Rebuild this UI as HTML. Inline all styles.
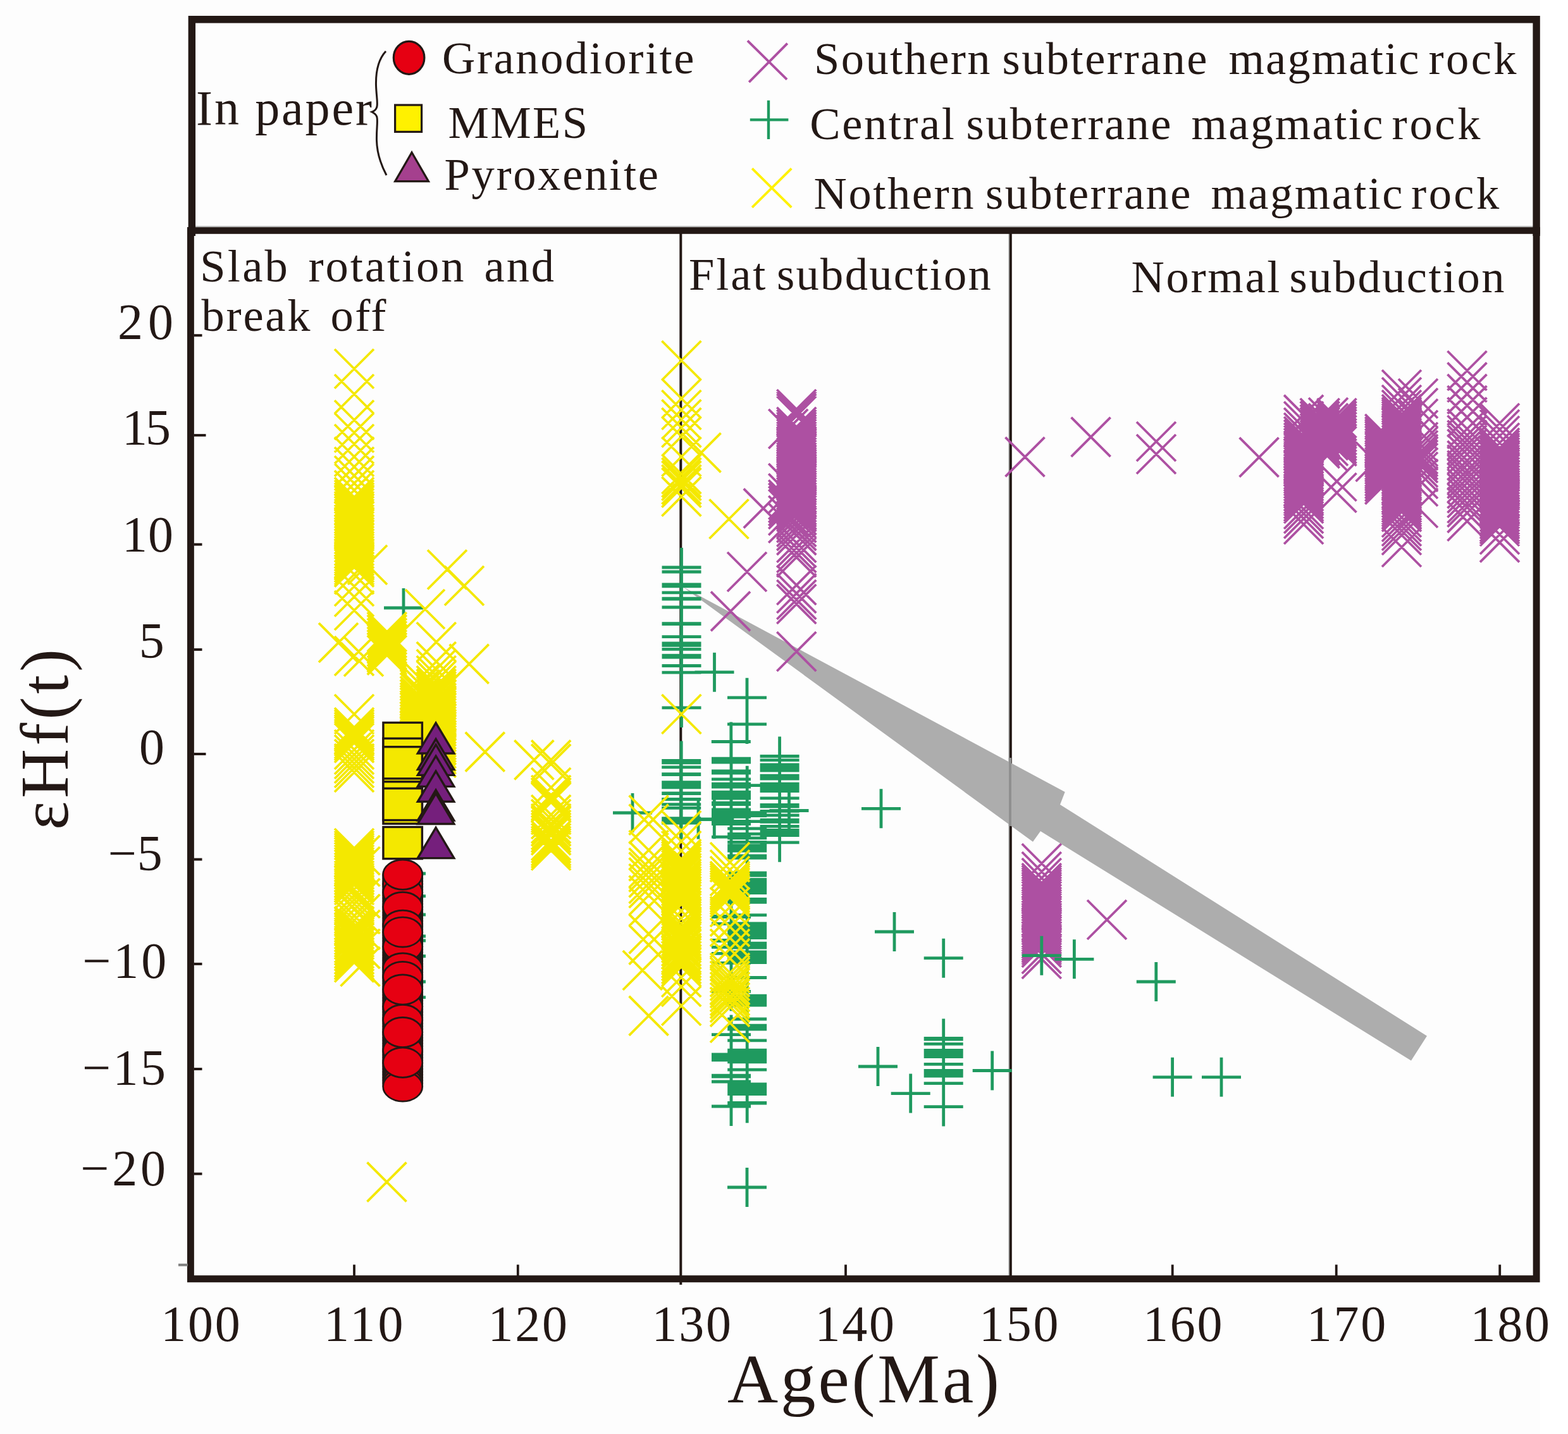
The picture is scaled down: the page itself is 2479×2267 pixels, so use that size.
<!DOCTYPE html>
<html lang="en"><head><meta charset="utf-8"><title>εHf(t) vs Age(Ma)</title>
<style>html,body{margin:0;padding:0;background:#fff}svg{display:block}</style></head>
<body>
<svg width="2479" height="2267" viewBox="0 0 2479 2267" font-family="'Liberation Serif', serif" fill="#231815">
<rect width="2479" height="2267" fill="#ffffff"/>
<rect x="0" y="0" width="2435" height="2267" fill="#fdfdfd"/>
<rect x="1074.3" y="365" width="4" height="1666" fill="#231815"/>
<rect x="1594.3" y="365" width="1.7" height="1655" fill="#a8a8a8"/>
<rect x="1596" y="365" width="3.8" height="1655" fill="#231815"/>
<polygon points="1080,928 1683.7,1252 1676,1272 2256,1637.7 2231,1676.7 1645,1314 1633,1330.8" fill="#adadad"/>
<rect x="1595" y="1198" width="4" height="108" fill="#8f8f8f"/>
<path d="M1228.3 616.0L1290.3 678.0M1290.3 616.0L1228.3 678.0M1228.3 619.5L1290.3 681.5M1290.3 619.5L1228.3 681.5M1228.3 623.0L1290.3 685.0M1290.3 623.0L1228.3 685.0M1228.3 626.5L1290.3 688.5M1290.3 626.5L1228.3 688.5M1228.3 644.0L1290.3 706.0M1290.3 644.0L1228.3 706.0M1228.3 648.0L1290.3 710.0M1290.3 648.0L1228.3 710.0M1228.3 651.6L1290.3 713.6M1290.3 651.6L1228.3 713.6M1228.3 655.6L1290.3 717.6M1290.3 655.6L1228.3 717.6M1228.3 659.4L1290.3 721.4M1290.3 659.4L1228.3 721.4M1228.3 663.0L1290.3 725.0M1290.3 663.0L1228.3 725.0M1228.3 667.2L1290.3 729.2M1290.3 667.2L1228.3 729.2M1228.3 670.3L1290.3 732.3M1290.3 670.3L1228.3 732.3M1228.3 674.4L1290.3 736.4M1290.3 674.4L1228.3 736.4M1228.3 677.4L1290.3 739.4M1290.3 677.4L1228.3 739.4M1228.3 681.2L1290.3 743.2M1290.3 681.2L1228.3 743.2M1228.3 684.9L1290.3 746.9M1290.3 684.9L1228.3 746.9M1228.3 688.2L1290.3 750.2M1290.3 688.2L1228.3 750.2M1228.3 692.2L1290.3 754.2M1290.3 692.2L1228.3 754.2M1228.3 695.9L1290.3 757.9M1290.3 695.9L1228.3 757.9M1228.3 699.8L1290.3 761.8M1290.3 699.8L1228.3 761.8M1228.3 704.1L1290.3 766.1M1290.3 704.1L1228.3 766.1M1228.3 707.4L1290.3 769.4M1290.3 707.4L1228.3 769.4M1228.3 710.4L1290.3 772.4M1290.3 710.4L1228.3 772.4M1228.3 713.9L1290.3 775.9M1290.3 713.9L1228.3 775.9M1228.3 717.8L1290.3 779.8M1290.3 717.8L1228.3 779.8M1228.3 721.1L1290.3 783.1M1290.3 721.1L1228.3 783.1M1228.3 724.3L1290.3 786.3M1290.3 724.3L1228.3 786.3M1228.3 728.6L1290.3 790.6M1290.3 728.6L1228.3 790.6M1228.3 732.5L1290.3 794.5M1290.3 732.5L1228.3 794.5M1228.3 736.1L1290.3 798.1M1290.3 736.1L1228.3 798.1M1228.3 740.4L1290.3 802.4M1290.3 740.4L1228.3 802.4M1228.3 743.8L1290.3 805.8M1290.3 743.8L1228.3 805.8M1228.3 747.8L1290.3 809.8M1290.3 747.8L1228.3 809.8M1228.3 751.1L1290.3 813.1M1290.3 751.1L1228.3 813.1M1228.3 754.7L1290.3 816.7M1290.3 754.7L1228.3 816.7M1228.3 758.8L1290.3 820.8M1290.3 758.8L1228.3 820.8M1228.3 763.1L1290.3 825.1M1290.3 763.1L1228.3 825.1M1228.3 767.3L1290.3 829.3M1290.3 767.3L1228.3 829.3M1228.3 770.8L1290.3 832.8M1290.3 770.8L1228.3 832.8M1228.3 774.7L1290.3 836.7M1290.3 774.7L1228.3 836.7M1228.3 778.1L1290.3 840.1M1290.3 778.1L1228.3 840.1M1228.3 783.0L1290.3 845.0M1290.3 783.0L1228.3 845.0M1228.3 788.7L1290.3 850.7M1290.3 788.7L1228.3 850.7M1228.3 795.3L1290.3 857.3M1290.3 795.3L1228.3 857.3M1228.3 802.0L1290.3 864.0M1290.3 802.0L1228.3 864.0M1228.3 808.2L1290.3 870.2M1290.3 808.2L1228.3 870.2M1228.3 815.1L1290.3 877.1M1290.3 815.1L1228.3 877.1M1228.3 827.0L1290.3 889.0M1290.3 827.0L1228.3 889.0M1228.3 835.0L1290.3 897.0M1290.3 835.0L1228.3 897.0M1228.3 843.0L1290.3 905.0M1290.3 843.0L1228.3 905.0M1228.3 850.0L1290.3 912.0M1290.3 850.0L1228.3 912.0M1228.3 894.0L1290.3 956.0M1290.3 894.0L1228.3 956.0M1228.3 907.0L1290.3 969.0M1290.3 907.0L1228.3 969.0M1228.3 917.0L1290.3 979.0M1290.3 917.0L1228.3 979.0M1228.3 924.0L1290.3 986.0M1290.3 924.0L1228.3 986.0M1228.3 999.0L1290.3 1061.0M1290.3 999.0L1228.3 1061.0M1215.2 647.0L1277.2 709.0M1277.2 647.0L1215.2 709.0M1215.2 733.0L1277.2 795.0M1277.2 733.0L1215.2 795.0M1215.2 749.0L1277.2 811.0M1277.2 749.0L1215.2 811.0M1215.2 759.0L1277.2 821.0M1277.2 759.0L1215.2 821.0M1215.2 764.0L1277.2 826.0M1277.2 764.0L1215.2 826.0M1215.2 769.0L1277.2 831.0M1277.2 769.0L1215.2 831.0M1215.2 774.0L1277.2 836.0M1277.2 774.0L1215.2 836.0M1215.2 784.0L1277.2 846.0M1277.2 784.0L1215.2 846.0M1215.2 796.0L1277.2 858.0M1277.2 796.0L1215.2 858.0M1175.8 772.7L1237.8 834.7M1237.8 772.7L1175.8 834.7M1150.0 873.0L1212.0 935.0M1212.0 873.0L1150.0 935.0M1124.0 935.4L1186.0 997.4M1186.0 935.4L1124.0 997.4M1589.5 691.3L1651.5 753.3M1651.5 691.3L1589.5 753.3M1693.6 659.8L1755.6 721.8M1755.6 659.8L1693.6 721.8M1797.0 667.0L1859.0 729.0M1859.0 667.0L1797.0 729.0M1797.0 687.0L1859.0 749.0M1859.0 687.0L1797.0 749.0M1959.6 691.9L2021.6 753.9M2021.6 691.9L1959.6 753.9M1615.8 1334.0L1677.8 1396.0M1677.8 1334.0L1615.8 1396.0M1615.8 1347.0L1677.8 1409.0M1677.8 1347.0L1615.8 1409.0M1615.8 1357.0L1677.8 1419.0M1677.8 1357.0L1615.8 1419.0M1615.8 1365.0L1677.8 1427.0M1677.8 1365.0L1615.8 1427.0M1615.8 1368.3L1677.8 1430.3M1677.8 1368.3L1615.8 1430.3M1615.8 1372.0L1677.8 1434.0M1677.8 1372.0L1615.8 1434.0M1615.8 1375.4L1677.8 1437.4M1677.8 1375.4L1615.8 1437.4M1615.8 1378.8L1677.8 1440.8M1677.8 1378.8L1615.8 1440.8M1615.8 1382.4L1677.8 1444.4M1677.8 1382.4L1615.8 1444.4M1615.8 1386.4L1677.8 1448.4M1677.8 1386.4L1615.8 1448.4M1615.8 1390.2L1677.8 1452.2M1677.8 1390.2L1615.8 1452.2M1615.8 1393.7L1677.8 1455.7M1677.8 1393.7L1615.8 1455.7M1615.8 1398.1L1677.8 1460.1M1677.8 1398.1L1615.8 1460.1M1615.8 1402.6L1677.8 1464.6M1677.8 1402.6L1615.8 1464.6M1615.8 1406.4L1677.8 1468.4M1677.8 1406.4L1615.8 1468.4M1615.8 1409.5L1677.8 1471.5M1677.8 1409.5L1615.8 1471.5M1615.8 1412.5L1677.8 1474.5M1677.8 1412.5L1615.8 1474.5M1615.8 1416.9L1677.8 1478.9M1677.8 1416.9L1615.8 1478.9M1615.8 1420.0L1677.8 1482.0M1677.8 1420.0L1615.8 1482.0M1615.8 1424.1L1677.8 1486.1M1677.8 1424.1L1615.8 1486.1M1615.8 1428.1L1677.8 1490.1M1677.8 1428.1L1615.8 1490.1M1615.8 1431.5L1677.8 1493.5M1677.8 1431.5L1615.8 1493.5M1615.8 1435.8L1677.8 1497.8M1677.8 1435.8L1615.8 1497.8M1615.8 1438.8L1677.8 1500.8M1677.8 1438.8L1615.8 1500.8M1615.8 1442.1L1677.8 1504.1M1677.8 1442.1L1615.8 1504.1M1615.8 1445.8L1677.8 1507.8M1677.8 1445.8L1615.8 1507.8M1615.8 1448.8L1677.8 1510.8M1677.8 1448.8L1615.8 1510.8M1615.8 1453.2L1677.8 1515.2M1677.8 1453.2L1615.8 1515.2M1615.8 1456.5L1677.8 1518.5M1677.8 1456.5L1615.8 1518.5M1615.8 1459.8L1677.8 1521.8M1677.8 1459.8L1615.8 1521.8M1615.8 1462.8L1677.8 1524.8M1677.8 1462.8L1615.8 1524.8M1615.8 1466.8L1677.8 1528.8M1677.8 1466.8L1615.8 1528.8M1615.8 1477.0L1677.8 1539.0M1677.8 1477.0L1615.8 1539.0M1615.8 1485.0L1677.8 1547.0M1677.8 1485.0L1615.8 1547.0M1719.0 1423.0L1781.0 1485.0M1781.0 1423.0L1719.0 1485.0M2030.1 624.6L2092.1 686.6M2092.1 624.6L2030.1 686.6M2030.1 635.0L2092.1 697.0M2092.1 635.0L2030.1 697.0M2030.1 645.0L2092.1 707.0M2092.1 645.0L2030.1 707.0M2030.1 653.0L2092.1 715.0M2092.1 653.0L2030.1 715.0M2030.1 659.0L2092.1 721.0M2092.1 659.0L2030.1 721.0M2030.1 664.0L2092.1 726.0M2092.1 664.0L2030.1 726.0M2030.1 669.0L2092.1 731.0M2092.1 669.0L2030.1 731.0M2030.1 673.0L2092.1 735.0M2092.1 673.0L2030.1 735.0M2030.1 677.1L2092.1 739.1M2092.1 677.1L2030.1 739.1M2030.1 681.3L2092.1 743.3M2092.1 681.3L2030.1 743.3M2030.1 685.9L2092.1 747.9M2092.1 685.9L2030.1 747.9M2030.1 690.0L2092.1 752.0M2092.1 690.0L2030.1 752.0M2030.1 693.3L2092.1 755.3M2092.1 693.3L2030.1 755.3M2030.1 697.1L2092.1 759.1M2092.1 697.1L2030.1 759.1M2030.1 700.3L2092.1 762.3M2092.1 700.3L2030.1 762.3M2030.1 703.4L2092.1 765.4M2092.1 703.4L2030.1 765.4M2030.1 707.1L2092.1 769.1M2092.1 707.1L2030.1 769.1M2030.1 711.3L2092.1 773.3M2092.1 711.3L2030.1 773.3M2030.1 714.5L2092.1 776.5M2092.1 714.5L2030.1 776.5M2030.1 718.0L2092.1 780.0M2092.1 718.0L2030.1 780.0M2030.1 721.5L2092.1 783.5M2092.1 721.5L2030.1 783.5M2030.1 725.6L2092.1 787.6M2092.1 725.6L2030.1 787.6M2030.1 729.5L2092.1 791.5M2092.1 729.5L2030.1 791.5M2030.1 733.5L2092.1 795.5M2092.1 733.5L2030.1 795.5M2030.1 737.7L2092.1 799.7M2092.1 737.7L2030.1 799.7M2030.1 741.3L2092.1 803.3M2092.1 741.3L2030.1 803.3M2030.1 745.6L2092.1 807.6M2092.1 745.6L2030.1 807.6M2030.1 750.0L2092.1 812.0M2092.1 750.0L2030.1 812.0M2030.1 753.2L2092.1 815.2M2092.1 753.2L2030.1 815.2M2030.1 757.7L2092.1 819.7M2092.1 757.7L2030.1 819.7M2030.1 761.8L2092.1 823.8M2092.1 761.8L2030.1 823.8M2030.1 765.0L2092.1 827.0M2092.1 765.0L2030.1 827.0M2030.1 774.0L2092.1 836.0M2092.1 774.0L2030.1 836.0M2030.1 781.0L2092.1 843.0M2092.1 781.0L2030.1 843.0M2030.1 789.0L2092.1 851.0M2092.1 789.0L2030.1 851.0M2030.1 798.0L2092.1 860.0M2092.1 798.0L2030.1 860.0M2055.7 630.0L2117.7 692.0M2117.7 630.0L2055.7 692.0M2055.7 634.8L2117.7 696.8M2117.7 634.8L2055.7 696.8M2055.7 640.1L2117.7 702.1M2117.7 640.1L2055.7 702.1M2055.7 644.3L2117.7 706.3M2117.7 644.3L2055.7 706.3M2055.7 649.0L2117.7 711.0M2117.7 649.0L2055.7 711.0M2055.7 654.2L2117.7 716.2M2117.7 654.2L2055.7 716.2M2055.7 659.3L2117.7 721.3M2117.7 659.3L2055.7 721.3M2055.7 664.7L2117.7 726.7M2117.7 664.7L2055.7 726.7M2055.7 669.1L2117.7 731.1M2117.7 669.1L2055.7 731.1M2055.7 673.9L2117.7 735.9M2117.7 673.9L2055.7 735.9M2055.7 677.8L2117.7 739.8M2117.7 677.8L2055.7 739.8M2082.5 630.0L2144.5 692.0M2144.5 630.0L2082.5 692.0M2082.5 634.7L2144.5 696.7M2144.5 634.7L2082.5 696.7M2082.5 639.0L2144.5 701.0M2144.5 639.0L2082.5 701.0M2082.5 643.5L2144.5 705.5M2144.5 643.5L2082.5 705.5M2082.5 647.1L2144.5 709.1M2144.5 647.1L2082.5 709.1M2082.5 651.9L2144.5 713.9M2144.5 651.9L2082.5 713.9M2082.5 656.9L2144.5 718.9M2144.5 656.9L2082.5 718.9M2082.5 661.8L2144.5 723.8M2144.5 661.8L2082.5 723.8M2082.5 666.0L2144.5 728.0M2144.5 666.0L2082.5 728.0M2082.5 670.6L2144.5 732.6M2144.5 670.6L2082.5 732.6M2082.5 674.4L2144.5 736.4M2144.5 674.4L2082.5 736.4M2082.5 730.0L2144.5 792.0M2144.5 730.0L2082.5 792.0M2082.5 748.0L2144.5 810.0M2144.5 748.0L2082.5 810.0M2069.0 629.0L2131.0 691.0M2131.0 629.0L2069.0 691.0M2069.0 638.0L2131.0 700.0M2131.0 638.0L2069.0 700.0M2069.0 647.0L2131.0 709.0M2131.0 647.0L2069.0 709.0M2069.0 656.0L2131.0 718.0M2131.0 656.0L2069.0 718.0M2069.0 665.0L2131.0 727.0M2131.0 665.0L2069.0 727.0M2069.0 674.0L2131.0 736.0M2131.0 674.0L2069.0 736.0M2069.0 683.0L2131.0 745.0M2131.0 683.0L2069.0 745.0M2158.3 655.0L2220.3 717.0M2220.3 655.0L2158.3 717.0M2158.3 659.4L2220.3 721.4M2220.3 659.4L2158.3 721.4M2158.3 662.9L2220.3 724.9M2220.3 662.9L2158.3 724.9M2158.3 666.1L2220.3 728.1M2220.3 666.1L2158.3 728.1M2158.3 669.8L2220.3 731.8M2220.3 669.8L2158.3 731.8M2158.3 673.6L2220.3 735.6M2220.3 673.6L2158.3 735.6M2158.3 677.9L2220.3 739.9M2220.3 677.9L2158.3 739.9M2158.3 681.7L2220.3 743.7M2220.3 681.7L2158.3 743.7M2158.3 684.7L2220.3 746.7M2220.3 684.7L2158.3 746.7M2158.3 689.0L2220.3 751.0M2220.3 689.0L2158.3 751.0M2158.3 692.1L2220.3 754.1M2220.3 692.1L2158.3 754.1M2158.3 696.4L2220.3 758.4M2220.3 696.4L2158.3 758.4M2158.3 699.7L2220.3 761.7M2220.3 699.7L2158.3 761.7M2158.3 703.2L2220.3 765.2M2220.3 703.2L2158.3 765.2M2158.3 707.4L2220.3 769.4M2220.3 707.4L2158.3 769.4M2158.3 710.7L2220.3 772.7M2220.3 710.7L2158.3 772.7M2158.3 713.9L2220.3 775.9M2220.3 713.9L2158.3 775.9M2158.3 717.7L2220.3 779.7M2220.3 717.7L2158.3 779.7M2158.3 721.9L2220.3 783.9M2220.3 721.9L2158.3 783.9M2158.3 726.2L2220.3 788.2M2220.3 726.2L2158.3 788.2M2158.3 730.3L2220.3 792.3M2220.3 730.3L2158.3 792.3M2158.3 734.9L2220.3 796.9M2220.3 734.9L2158.3 796.9M2143.6 699.0L2205.6 761.0M2205.6 699.0L2143.6 761.0M2185.0 585.0L2247.0 647.0M2247.0 585.0L2185.0 647.0M2185.0 597.0L2247.0 659.0M2247.0 597.0L2185.0 659.0M2185.0 609.0L2247.0 671.0M2247.0 609.0L2185.0 671.0M2185.0 617.0L2247.0 679.0M2247.0 617.0L2185.0 679.0M2185.0 624.0L2247.0 686.0M2247.0 624.0L2185.0 686.0M2185.0 628.3L2247.0 690.3M2247.0 628.3L2185.0 690.3M2185.0 631.4L2247.0 693.4M2247.0 631.4L2185.0 693.4M2185.0 634.8L2247.0 696.8M2247.0 634.8L2185.0 696.8M2185.0 638.5L2247.0 700.5M2247.0 638.5L2185.0 700.5M2185.0 641.9L2247.0 703.9M2247.0 641.9L2185.0 703.9M2185.0 645.9L2247.0 707.9M2247.0 645.9L2185.0 707.9M2185.0 649.8L2247.0 711.8M2247.0 649.8L2185.0 711.8M2185.0 653.5L2247.0 715.5M2247.0 653.5L2185.0 715.5M2185.0 657.7L2247.0 719.7M2247.0 657.7L2185.0 719.7M2185.0 661.5L2247.0 723.5M2247.0 661.5L2185.0 723.5M2185.0 665.0L2247.0 727.0M2247.0 665.0L2185.0 727.0M2185.0 668.5L2247.0 730.5M2247.0 668.5L2185.0 730.5M2185.0 672.7L2247.0 734.7M2247.0 672.7L2185.0 734.7M2185.0 676.9L2247.0 738.9M2247.0 676.9L2185.0 738.9M2185.0 680.2L2247.0 742.2M2247.0 680.2L2185.0 742.2M2185.0 684.4L2247.0 746.4M2247.0 684.4L2185.0 746.4M2185.0 688.8L2247.0 750.8M2247.0 688.8L2185.0 750.8M2185.0 692.5L2247.0 754.5M2247.0 692.5L2185.0 754.5M2185.0 696.3L2247.0 758.3M2247.0 696.3L2185.0 758.3M2185.0 699.6L2247.0 761.6M2247.0 699.6L2185.0 761.6M2185.0 703.3L2247.0 765.3M2247.0 703.3L2185.0 765.3M2185.0 707.0L2247.0 769.0M2247.0 707.0L2185.0 769.0M2185.0 710.9L2247.0 772.9M2247.0 710.9L2185.0 772.9M2185.0 713.9L2247.0 775.9M2247.0 713.9L2185.0 775.9M2185.0 718.3L2247.0 780.3M2247.0 718.3L2185.0 780.3M2185.0 722.0L2247.0 784.0M2247.0 722.0L2185.0 784.0M2185.0 725.6L2247.0 787.6M2247.0 725.6L2185.0 787.6M2185.0 729.7L2247.0 791.7M2247.0 729.7L2185.0 791.7M2185.0 733.5L2247.0 795.5M2247.0 733.5L2185.0 795.5M2185.0 737.2L2247.0 799.2M2247.0 737.2L2185.0 799.2M2185.0 741.1L2247.0 803.1M2247.0 741.1L2185.0 803.1M2185.0 744.2L2247.0 806.2M2247.0 744.2L2185.0 806.2M2185.0 748.0L2247.0 810.0M2247.0 748.0L2185.0 810.0M2185.0 751.6L2247.0 813.6M2247.0 751.6L2185.0 813.6M2185.0 755.9L2247.0 817.9M2247.0 755.9L2185.0 817.9M2185.0 760.2L2247.0 822.2M2247.0 760.2L2185.0 822.2M2185.0 763.6L2247.0 825.6M2247.0 763.6L2185.0 825.6M2185.0 767.2L2247.0 829.2M2247.0 767.2L2185.0 829.2M2185.0 770.4L2247.0 832.4M2247.0 770.4L2185.0 832.4M2185.0 774.0L2247.0 836.0M2247.0 774.0L2185.0 836.0M2185.0 778.2L2247.0 840.2M2247.0 778.2L2185.0 840.2M2185.0 787.0L2247.0 849.0M2247.0 787.0L2185.0 849.0M2185.0 794.0L2247.0 856.0M2247.0 794.0L2185.0 856.0M2185.0 801.0L2247.0 863.0M2247.0 801.0L2185.0 863.0M2185.0 808.0L2247.0 870.0M2247.0 808.0L2185.0 870.0M2185.0 815.0L2247.0 877.0M2247.0 815.0L2185.0 877.0M2185.0 834.0L2247.0 896.0M2247.0 834.0L2185.0 896.0M2211.0 599.0L2273.0 661.0M2273.0 599.0L2211.0 661.0M2211.0 614.0L2273.0 676.0M2273.0 614.0L2211.0 676.0M2211.0 631.0L2273.0 693.0M2273.0 631.0L2211.0 693.0M2211.0 649.0L2273.0 711.0M2273.0 649.0L2211.0 711.0M2211.0 668.0L2273.0 730.0M2273.0 668.0L2211.0 730.0M2211.0 675.0L2273.0 737.0M2273.0 675.0L2211.0 737.0M2211.0 681.0L2273.0 743.0M2273.0 681.0L2211.0 743.0M2211.0 687.0L2273.0 749.0M2273.0 687.0L2211.0 749.0M2211.0 691.0L2273.0 753.0M2273.0 691.0L2211.0 753.0M2211.0 696.0L2273.0 758.0M2273.0 696.0L2211.0 758.0M2211.0 701.0L2273.0 763.0M2273.0 701.0L2211.0 763.0M2211.0 708.0L2273.0 770.0M2273.0 708.0L2211.0 770.0M2211.0 715.0L2273.0 777.0M2273.0 715.0L2211.0 777.0M2211.0 726.0L2273.0 788.0M2273.0 726.0L2211.0 788.0M2211.0 738.0L2273.0 800.0M2273.0 738.0L2211.0 800.0M2211.0 772.0L2273.0 834.0M2273.0 772.0L2211.0 834.0M2288.5 555.0L2350.5 617.0M2350.5 555.0L2288.5 617.0M2288.5 573.4L2350.5 635.4M2350.5 573.4L2288.5 635.4M2288.5 591.8L2350.5 653.8M2350.5 591.8L2288.5 653.8M2288.5 610.2L2350.5 672.2M2350.5 610.2L2288.5 672.2M2288.5 628.6L2350.5 690.6M2350.5 628.6L2288.5 690.6M2288.5 647.0L2350.5 709.0M2350.5 647.0L2288.5 709.0M2288.5 657.0L2350.5 719.0M2350.5 657.0L2288.5 719.0M2288.5 664.9L2350.5 726.9M2350.5 664.9L2288.5 726.9M2288.5 672.2L2350.5 734.2M2350.5 672.2L2288.5 734.2M2288.5 678.9L2350.5 740.9M2350.5 678.9L2288.5 740.9M2288.5 687.4L2350.5 749.4M2350.5 687.4L2288.5 749.4M2288.5 697.1L2350.5 759.1M2350.5 697.1L2288.5 759.1M2288.5 703.6L2350.5 765.6M2350.5 703.6L2288.5 765.6M2288.5 712.7L2350.5 774.7M2350.5 712.7L2288.5 774.7M2288.5 718.8L2350.5 780.8M2350.5 718.8L2288.5 780.8M2288.5 725.6L2350.5 787.6M2350.5 725.6L2288.5 787.6M2288.5 732.5L2350.5 794.5M2350.5 732.5L2288.5 794.5M2288.5 741.3L2350.5 803.3M2350.5 741.3L2288.5 803.3M2288.5 748.6L2350.5 810.6M2350.5 748.6L2288.5 810.6M2288.5 756.0L2350.5 818.0M2350.5 756.0L2288.5 818.0M2288.5 764.5L2350.5 826.5M2350.5 764.5L2288.5 826.5M2288.5 770.9L2350.5 832.9M2350.5 770.9L2288.5 832.9M2288.5 779.8L2350.5 841.8M2350.5 779.8L2288.5 841.8M2288.5 793.0L2350.5 855.0M2350.5 793.0L2288.5 855.0M2340.0 638.0L2402.0 700.0M2402.0 638.0L2340.0 700.0M2340.0 648.0L2402.0 710.0M2402.0 648.0L2340.0 710.0M2340.0 658.0L2402.0 720.0M2402.0 658.0L2340.0 720.0M2340.0 669.0L2402.0 731.0M2402.0 669.0L2340.0 731.0M2340.0 677.0L2402.0 739.0M2402.0 677.0L2340.0 739.0M2340.0 681.0L2402.0 743.0M2402.0 681.0L2340.0 743.0M2340.0 684.6L2402.0 746.6M2402.0 684.6L2340.0 746.6M2340.0 688.1L2402.0 750.1M2402.0 688.1L2340.0 750.1M2340.0 692.2L2402.0 754.2M2402.0 692.2L2340.0 754.2M2340.0 696.1L2402.0 758.1M2402.0 696.1L2340.0 758.1M2340.0 699.9L2402.0 761.9M2402.0 699.9L2340.0 761.9M2340.0 703.7L2402.0 765.7M2402.0 703.7L2340.0 765.7M2340.0 707.8L2402.0 769.8M2402.0 707.8L2340.0 769.8M2340.0 711.2L2402.0 773.2M2402.0 711.2L2340.0 773.2M2340.0 714.8L2402.0 776.8M2402.0 714.8L2340.0 776.8M2340.0 719.0L2402.0 781.0M2402.0 719.0L2340.0 781.0M2340.0 723.2L2402.0 785.2M2402.0 723.2L2340.0 785.2M2340.0 727.3L2402.0 789.3M2402.0 727.3L2340.0 789.3M2340.0 731.8L2402.0 793.8M2402.0 731.8L2340.0 793.8M2340.0 736.0L2402.0 798.0M2402.0 736.0L2340.0 798.0M2340.0 740.6L2402.0 802.6M2402.0 740.6L2340.0 802.6M2340.0 744.1L2402.0 806.1M2402.0 744.1L2340.0 806.1M2340.0 748.5L2402.0 810.5M2402.0 748.5L2340.0 810.5M2340.0 753.0L2402.0 815.0M2402.0 753.0L2340.0 815.0M2340.0 757.7L2402.0 819.7M2402.0 757.7L2340.0 819.7M2340.0 761.4L2402.0 823.4M2402.0 761.4L2340.0 823.4M2340.0 765.1L2402.0 827.1M2402.0 765.1L2340.0 827.1M2340.0 769.7L2402.0 831.7M2402.0 769.7L2340.0 831.7M2340.0 773.3L2402.0 835.3M2402.0 773.3L2340.0 835.3M2340.0 778.1L2402.0 840.1M2402.0 778.1L2340.0 840.1M2340.0 782.7L2402.0 844.7M2402.0 782.7L2340.0 844.7M2340.0 786.1L2402.0 848.1M2402.0 786.1L2340.0 848.1M2340.0 789.7L2402.0 851.7M2402.0 789.7L2340.0 851.7M2340.0 794.1L2402.0 856.1M2402.0 794.1L2340.0 856.1M2340.0 797.7L2402.0 859.7M2402.0 797.7L2340.0 859.7M2340.0 801.0L2402.0 863.0M2402.0 801.0L2340.0 863.0M2340.0 814.0L2402.0 876.0M2402.0 814.0L2340.0 876.0M2340.0 826.6L2402.0 888.6M2402.0 826.6L2340.0 888.6" stroke="#ad50a2" stroke-width="3.8" fill="none"/>
<path d="M611.0 1381.0H673.0M642.0 1350.0V1412.0M611.0 1416.6H673.0M642.0 1385.6V1447.6M611.0 1446.0H673.0M642.0 1415.0V1477.0M611.0 1480.0H673.0M642.0 1449.0V1511.0M611.0 1487.0H673.0M642.0 1456.0V1518.0M611.0 1511.5H673.0M642.0 1480.5V1542.5M611.0 1552.0H673.0M642.0 1521.0V1583.0M611.0 1576.6H673.0M642.0 1545.6V1607.6M1046.5 897.0H1108.5M1077.5 866.0V928.0M1046.5 904.0H1108.5M1077.5 873.0V935.0M1046.5 923.9H1108.5M1077.5 892.9V954.9M1046.5 926.8H1108.5M1077.5 895.8V957.8M1046.5 936.9H1108.5M1077.5 905.9V967.9M1046.5 946.2H1108.5M1077.5 915.2V977.2M1046.5 947.1H1108.5M1077.5 916.1V978.1M1046.5 960.0H1108.5M1077.5 929.0V991.0M1046.5 985.7H1108.5M1077.5 954.7V1016.7M1046.5 986.5H1108.5M1077.5 955.5V1017.5M1046.5 1006.7H1108.5M1077.5 975.7V1037.7M1046.5 1017.0H1108.5M1077.5 986.0V1048.0M1046.5 1020.3H1108.5M1077.5 989.3V1051.3M1046.5 1026.3H1108.5M1077.5 995.3V1057.3M1046.5 1036.2H1108.5M1077.5 1005.2V1067.2M1046.5 1039.0H1108.5M1077.5 1008.0V1070.0M1046.5 1052.5H1108.5M1077.5 1021.5V1083.5M1046.5 1063.2H1108.5M1077.5 1032.2V1094.2M1046.5 1118.9H1108.5M1077.5 1087.9V1149.9M1046.2 1202.5H1108.2M1077.2 1171.5V1233.5M1046.2 1205.8H1108.2M1077.2 1174.8V1236.8M1046.2 1212.8H1108.2M1077.2 1181.8V1243.8M1046.2 1223.7H1108.2M1077.2 1192.7V1254.7M1046.2 1224.6H1108.2M1077.2 1193.6V1255.6M1046.2 1236.7H1108.2M1077.2 1205.7V1267.7M1046.2 1240.8H1108.2M1077.2 1209.8V1271.8M1046.2 1244.9H1108.2M1077.2 1213.9V1275.9M1046.2 1253.8H1108.2M1077.2 1222.8V1284.8M1046.2 1254.6H1108.2M1077.2 1223.6V1285.6M1046.2 1263.5H1108.2M1077.2 1232.5V1294.5M1046.2 1271.7H1108.2M1077.2 1240.7V1302.7M1046.2 1277.4H1108.2M1077.2 1246.4V1308.4M1046.2 1293.6H1108.2M1077.2 1262.6V1324.6M1046.2 1297.3H1108.2M1077.2 1266.3V1328.3M1046.2 1301.0H1108.2M1077.2 1270.0V1332.0M1098.5 1062.7H1160.5M1129.5 1031.7V1093.7M1150.0 1102.8H1212.0M1181.0 1071.8V1133.8M1150.0 1144.9H1212.0M1181.0 1113.9V1175.9M1124.8 1172.5H1186.8M1155.8 1141.5V1203.5M1362.0 1278.3H1424.0M1393.0 1247.3V1309.3M969.0 1285.0H1031.0M1000.0 1254.0V1316.0M607.0 961.0H669.0M638.0 930.0V992.0M1216.5 1281.5H1278.5M1247.5 1250.5V1312.5M1073.0 1295.5H1135.0M1104.0 1264.5V1326.5M1098.3 1295.0H1160.3M1129.3 1264.0V1326.0M1125.0 1199.2H1187.0M1156.0 1168.2V1230.2M1125.0 1202.1H1187.0M1156.0 1171.1V1233.1M1125.0 1205.0H1187.0M1156.0 1174.0V1236.0M1125.0 1218.8H1187.0M1156.0 1187.8V1249.8M1125.0 1222.1H1187.0M1156.0 1191.1V1253.1M1125.0 1231.8H1187.0M1156.0 1200.8V1262.8M1125.0 1239.1H1187.0M1156.0 1208.1V1270.1M1125.0 1241.6H1187.0M1156.0 1210.6V1272.6M1125.0 1244.1H1187.0M1156.0 1213.1V1275.1M1125.0 1252.1H1187.0M1156.0 1221.1V1283.1M1125.0 1255.4H1187.0M1156.0 1224.4V1286.4M1125.0 1258.7H1187.0M1156.0 1227.7V1289.7M1125.0 1262.0H1187.0M1156.0 1231.0V1293.0M1125.0 1269.2H1187.0M1156.0 1238.2V1300.2M1125.0 1271.6H1187.0M1156.0 1240.6V1302.6M1125.0 1279.8H1187.0M1156.0 1248.8V1310.8M1125.0 1283.6H1187.0M1156.0 1252.6V1314.6M1125.0 1287.5H1187.0M1156.0 1256.5V1318.5M1125.0 1291.3H1187.0M1156.0 1260.3V1322.3M1125.0 1298.4H1187.0M1156.0 1267.4V1329.4M1125.0 1302.6H1187.0M1156.0 1271.6V1333.6M1125.0 1323.2H1187.0M1156.0 1292.2V1354.2M1125.0 1448.4H1187.0M1156.0 1417.4V1479.4M1125.0 1449.6H1187.0M1156.0 1418.6V1480.6M1125.0 1460.3H1187.0M1156.0 1429.3V1491.3M1125.0 1486.4H1187.0M1156.0 1455.4V1517.4M1125.0 1487.6H1187.0M1156.0 1456.6V1518.6M1125.0 1497.3H1187.0M1156.0 1466.3V1528.3M1125.0 1507.3H1187.0M1156.0 1476.3V1538.3M1125.0 1522.3H1187.0M1156.0 1491.3V1553.3M1125.0 1567.3H1187.0M1156.0 1536.3V1598.3M1125.0 1635.6H1187.0M1156.0 1604.6V1666.6M1125.0 1667.0H1187.0M1156.0 1636.0V1698.0M1125.0 1670.0H1187.0M1156.0 1639.0V1701.0M1125.0 1672.9H1187.0M1156.0 1641.9V1703.9M1125.0 1675.9H1187.0M1156.0 1644.9V1706.9M1125.0 1700.2H1187.0M1156.0 1669.2V1731.2M1125.0 1702.2H1187.0M1156.0 1671.2V1733.2M1125.0 1710.0H1187.0M1156.0 1679.0V1741.0M1125.0 1749.0H1187.0M1156.0 1718.0V1780.0M1150.2 1241.7H1212.2M1181.2 1210.7V1272.7M1150.2 1284.7H1212.2M1181.2 1253.7V1315.7M1150.2 1287.2H1212.2M1181.2 1256.2V1318.2M1150.2 1289.6H1212.2M1181.2 1258.6V1320.6M1150.2 1298.7H1212.2M1181.2 1267.7V1329.7M1150.2 1309.8H1212.2M1181.2 1278.8V1340.8M1150.2 1318.3H1212.2M1181.2 1287.3V1349.3M1150.2 1324.8H1212.2M1181.2 1293.8V1355.8M1150.2 1331.3H1212.2M1181.2 1300.3V1362.3M1150.2 1336.7H1212.2M1181.2 1305.7V1367.7M1150.2 1340.9H1212.2M1181.2 1309.9V1371.9M1150.2 1345.0H1212.2M1181.2 1314.0V1376.0M1150.2 1353.0H1212.2M1181.2 1322.0V1384.0M1150.2 1356.3H1212.2M1181.2 1325.3V1387.3M1150.2 1379.9H1212.2M1181.2 1348.9V1410.9M1150.2 1384.0H1212.2M1181.2 1353.0V1415.0M1150.2 1390.4H1212.2M1181.2 1359.4V1421.4M1150.2 1394.6H1212.2M1181.2 1363.6V1425.6M1150.2 1398.9H1212.2M1181.2 1367.9V1429.9M1150.2 1403.1H1212.2M1181.2 1372.1V1434.1M1150.2 1407.4H1212.2M1181.2 1376.4V1438.4M1150.2 1411.6H1212.2M1181.2 1380.6V1442.6M1150.2 1421.4H1212.2M1181.2 1390.4V1452.4M1150.2 1423.9H1212.2M1181.2 1392.9V1454.9M1150.2 1426.3H1212.2M1181.2 1395.3V1457.3M1150.2 1446.7H1212.2M1181.2 1415.7V1477.7M1150.2 1460.0H1212.2M1181.2 1429.0V1491.0M1150.2 1463.8H1212.2M1181.2 1432.8V1494.8M1150.2 1467.5H1212.2M1181.2 1436.5V1498.5M1150.2 1471.3H1212.2M1181.2 1440.3V1502.3M1150.2 1475.1H1212.2M1181.2 1444.1V1506.1M1150.2 1478.8H1212.2M1181.2 1447.8V1509.8M1150.2 1482.6H1212.2M1181.2 1451.6V1513.6M1150.2 1491.2H1212.2M1181.2 1460.2V1522.2M1150.2 1494.7H1212.2M1181.2 1463.7V1525.7M1150.2 1498.1H1212.2M1181.2 1467.1V1529.1M1150.2 1504.9H1212.2M1181.2 1473.9V1535.9M1150.2 1509.1H1212.2M1181.2 1478.1V1540.1M1150.2 1513.2H1212.2M1181.2 1482.2V1544.2M1150.2 1517.4H1212.2M1181.2 1486.4V1548.4M1150.2 1521.6H1212.2M1181.2 1490.6V1552.6M1150.2 1545.5H1212.2M1181.2 1514.5V1576.5M1150.2 1574.2H1212.2M1181.2 1543.2V1605.2M1150.2 1577.9H1212.2M1181.2 1546.9V1608.9M1150.2 1581.6H1212.2M1181.2 1550.6V1612.6M1150.2 1585.3H1212.2M1181.2 1554.3V1616.3M1150.2 1589.0H1212.2M1181.2 1558.0V1620.0M1150.2 1611.0H1212.2M1181.2 1580.0V1642.0M1150.2 1621.1H1212.2M1181.2 1590.1V1652.1M1150.2 1624.1H1212.2M1181.2 1593.1V1655.1M1150.2 1627.1H1212.2M1181.2 1596.1V1658.1M1150.2 1644.9H1212.2M1181.2 1613.9V1675.9M1150.2 1660.2H1212.2M1181.2 1629.2V1691.2M1150.2 1663.9H1212.2M1181.2 1632.9V1694.9M1150.2 1667.6H1212.2M1181.2 1636.6V1698.6M1150.2 1671.4H1212.2M1181.2 1640.4V1702.4M1150.2 1675.1H1212.2M1181.2 1644.1V1706.1M1150.2 1678.8H1212.2M1181.2 1647.8V1709.8M1150.2 1691.1H1212.2M1181.2 1660.1V1722.1M1150.2 1713.9H1212.2M1181.2 1682.9V1744.9M1150.2 1717.8H1212.2M1181.2 1686.8V1748.8M1150.2 1721.8H1212.2M1181.2 1690.8V1752.8M1150.2 1725.7H1212.2M1181.2 1694.7V1756.7M1150.2 1729.6H1212.2M1181.2 1698.6V1760.6M1150.2 1743.4H1212.2M1181.2 1712.4V1774.4M1150.2 1744.2H1212.2M1181.2 1713.2V1775.2M1201.6 1195.5H1263.6M1232.6 1164.5V1226.5M1201.6 1201.6H1263.6M1232.6 1170.6V1232.6M1201.6 1209.0H1263.6M1232.6 1178.0V1240.0M1201.6 1212.0H1263.6M1232.6 1181.0V1243.0M1201.6 1215.0H1263.6M1232.6 1184.0V1246.0M1201.6 1218.0H1263.6M1232.6 1187.0V1249.0M1201.6 1226.1H1263.6M1232.6 1195.1V1257.1M1201.6 1228.6H1263.6M1232.6 1197.6V1259.6M1201.6 1231.1H1263.6M1232.6 1200.1V1262.1M1201.6 1239.1H1263.6M1232.6 1208.1V1270.1M1201.6 1242.9H1263.6M1232.6 1211.9V1273.9M1201.6 1246.8H1263.6M1232.6 1215.8V1277.8M1201.6 1250.6H1263.6M1232.6 1219.6V1281.6M1201.6 1261.9H1263.6M1232.6 1230.9V1292.9M1201.6 1272.4H1263.6M1232.6 1241.4V1303.4M1201.6 1275.0H1263.6M1232.6 1244.0V1306.0M1201.6 1282.3H1263.6M1232.6 1251.3V1313.3M1201.6 1288.8H1263.6M1232.6 1257.8V1319.8M1201.6 1296.1H1263.6M1232.6 1265.1V1327.1M1201.6 1299.4H1263.6M1232.6 1268.4V1330.4M1201.6 1306.3H1263.6M1232.6 1275.3V1337.3M1201.6 1312.4H1263.6M1232.6 1281.4V1343.4M1201.6 1316.5H1263.6M1232.6 1285.5V1347.5M1201.6 1320.6H1263.6M1232.6 1289.6V1351.6M1201.6 1331.8H1263.6M1232.6 1300.8V1362.8M1150.0 1877.0H1212.0M1181.0 1846.0V1908.0M1383.0 1473.0H1445.0M1414.0 1442.0V1504.0M1460.7 1514.7H1522.7M1491.7 1483.7V1545.7M1615.8 1510.7H1677.8M1646.8 1479.7V1541.7M1667.4 1516.3H1729.4M1698.4 1485.3V1547.3M1796.8 1552.0H1858.8M1827.8 1521.0V1583.0M1822.6 1702.8H1884.6M1853.6 1671.8V1733.8M1900.0 1702.8H1962.0M1931.0 1671.8V1733.8M1357.0 1686.0H1419.0M1388.0 1655.0V1717.0M1408.7 1728.6H1470.7M1439.7 1697.6V1759.6M1537.7 1692.5H1599.7M1568.7 1661.5V1723.5M1460.7 1749.6H1522.7M1491.7 1718.6V1780.6M1460.7 1641.4H1522.7M1491.7 1610.4V1672.4M1460.7 1643.1H1522.7M1491.7 1612.1V1674.1M1460.7 1650.3H1522.7M1491.7 1619.3V1681.3M1460.7 1660.4H1522.7M1491.7 1629.4V1691.4M1460.7 1663.8H1522.7M1491.7 1632.8V1694.8M1460.7 1667.2H1522.7M1491.7 1636.2V1698.2M1460.7 1670.6H1522.7M1491.7 1639.6V1701.6M1460.7 1682.3H1522.7M1491.7 1651.3V1713.3M1460.7 1692.4H1522.7M1491.7 1661.4V1723.4M1460.7 1696.8H1522.7M1491.7 1665.8V1727.8M1460.7 1701.1H1522.7M1491.7 1670.1V1732.1M1460.7 1712.7H1522.7M1491.7 1681.7V1743.7" stroke="#1f9a5f" stroke-width="4.8" fill="none"/>
<path d="M529.0 552.0L591.0 614.0M591.0 552.0L529.0 614.0M529.0 592.0L591.0 654.0M591.0 592.0L529.0 654.0M529.0 633.0L591.0 695.0M591.0 633.0L529.0 695.0M529.0 653.0L591.0 715.0M591.0 653.0L529.0 715.0M529.0 671.0L591.0 733.0M591.0 671.0L529.0 733.0M529.0 691.0L591.0 753.0M591.0 691.0L529.0 753.0M529.0 707.0L591.0 769.0M591.0 707.0L529.0 769.0M529.0 721.0L591.0 783.0M591.0 721.0L529.0 783.0M529.0 733.0L591.0 795.0M591.0 733.0L529.0 795.0M529.0 744.0L591.0 806.0M591.0 744.0L529.0 806.0M529.0 755.0L591.0 817.0M591.0 755.0L529.0 817.0M529.0 759.1L591.0 821.1M591.0 759.1L529.0 821.1M529.0 763.4L591.0 825.4M591.0 763.4L529.0 825.4M529.0 768.5L591.0 830.5M591.0 768.5L529.0 830.5M529.0 772.6L591.0 834.6M591.0 772.6L529.0 834.6M529.0 776.8L591.0 838.8M591.0 776.8L529.0 838.8M529.0 781.2L591.0 843.2M591.0 781.2L529.0 843.2M529.0 784.8L591.0 846.8M591.0 784.8L529.0 846.8M529.0 789.0L591.0 851.0M591.0 789.0L529.0 851.0M529.0 793.4L591.0 855.4M591.0 793.4L529.0 855.4M529.0 798.2L591.0 860.2M591.0 798.2L529.0 860.2M529.0 801.6L591.0 863.6M591.0 801.6L529.0 863.6M529.0 805.4L591.0 867.4M591.0 805.4L529.0 867.4M529.0 808.8L591.0 870.8M591.0 808.8L529.0 870.8M529.0 813.6L591.0 875.6M591.0 813.6L529.0 875.6M529.0 818.2L591.0 880.2M591.0 818.2L529.0 880.2M529.0 821.5L591.0 883.5M591.0 821.5L529.0 883.5M529.0 826.7L591.0 888.7M591.0 826.7L529.0 888.7M529.0 831.8L591.0 893.8M591.0 831.8L529.0 893.8M529.0 836.3L591.0 898.3M591.0 836.3L529.0 898.3M529.0 840.7L591.0 902.7M591.0 840.7L529.0 902.7M529.0 844.2L591.0 906.2M591.0 844.2L529.0 906.2M529.0 847.5L591.0 909.5M591.0 847.5L529.0 909.5M529.0 851.7L591.0 913.7M591.0 851.7L529.0 913.7M529.0 855.1L591.0 917.1M591.0 855.1L529.0 917.1M529.0 858.6L591.0 920.6M591.0 858.6L529.0 920.6M529.0 862.3L591.0 924.3M591.0 862.3L529.0 924.3M529.0 865.6L591.0 927.6M591.0 865.6L529.0 927.6M529.0 877.0L591.0 939.0M591.0 877.0L529.0 939.0M529.0 896.0L591.0 958.0M591.0 896.0L529.0 958.0M529.0 912.5L591.0 974.5M591.0 912.5L529.0 974.5M529.0 934.0L591.0 996.0M591.0 934.0L529.0 996.0M550.0 862.0L612.0 924.0M612.0 862.0L550.0 924.0M504.0 985.0L566.0 1047.0M566.0 985.0L504.0 1047.0M529.0 1006.0L591.0 1068.0M591.0 1006.0L529.0 1068.0M544.0 1007.0L606.0 1069.0M606.0 1007.0L544.0 1069.0M676.0 869.5L738.0 931.5M738.0 869.5L676.0 931.5M703.0 895.0L765.0 957.0M765.0 895.0L703.0 957.0M641.0 932.0L703.0 994.0M703.0 932.0L641.0 994.0M710.7 1018.7L772.7 1080.7M772.7 1018.7L710.7 1080.7M580.8 968.0L642.8 1030.0M642.8 968.0L580.8 1030.0M580.8 972.4L642.8 1034.4M642.8 972.4L580.8 1034.4M580.8 977.6L642.8 1039.6M642.8 977.6L580.8 1039.6M580.8 982.1L642.8 1044.1M642.8 982.1L580.8 1044.1M580.8 986.9L642.8 1048.9M642.8 986.9L580.8 1048.9M580.8 991.4L642.8 1053.4M642.8 991.4L580.8 1053.4M580.8 996.2L642.8 1058.2M642.8 996.2L580.8 1058.2M580.8 1000.6L642.8 1062.6M642.8 1000.6L580.8 1062.6M580.8 1004.7L642.8 1066.7M642.8 1004.7L580.8 1066.7M632.8 1041.0L694.8 1103.0M694.8 1041.0L632.8 1103.0M632.8 1050.0L694.8 1112.0M694.8 1050.0L632.8 1112.0M632.8 1059.0L694.8 1121.0M694.8 1059.0L632.8 1121.0M632.8 1064.0L694.8 1126.0M694.8 1064.0L632.8 1126.0M632.8 1069.5L694.8 1131.5M694.8 1069.5L632.8 1131.5M632.8 1074.7L694.8 1136.7M694.8 1074.7L632.8 1136.7M632.8 1079.6L694.8 1141.6M694.8 1079.6L632.8 1141.6M632.8 1083.7L694.8 1145.7M694.8 1083.7L632.8 1145.7M632.8 1087.7L694.8 1149.7M694.8 1087.7L632.8 1149.7M632.8 1091.8L694.8 1153.8M694.8 1091.8L632.8 1153.8M632.8 1095.4L694.8 1157.4M694.8 1095.4L632.8 1157.4M632.8 1100.4L694.8 1162.4M694.8 1100.4L632.8 1162.4M632.8 1104.7L694.8 1166.7M694.8 1104.7L632.8 1166.7M632.8 1109.9L694.8 1171.9M694.8 1109.9L632.8 1171.9M632.8 1114.2L694.8 1176.2M694.8 1114.2L632.8 1176.2M632.8 1119.6L694.8 1181.6M694.8 1119.6L632.8 1181.6M632.8 1124.8L694.8 1186.8M694.8 1124.8L632.8 1186.8M632.8 1128.3L694.8 1190.3M694.8 1128.3L632.8 1190.3M632.8 1132.2L694.8 1194.2M694.8 1132.2L632.8 1194.2M632.8 1137.5L694.8 1199.5M694.8 1137.5L632.8 1199.5M632.8 1142.0L694.8 1204.0M694.8 1142.0L632.8 1204.0M632.8 1147.4L694.8 1209.4M694.8 1147.4L632.8 1209.4M632.8 1151.7L694.8 1213.7M694.8 1151.7L632.8 1213.7M632.8 1155.4L694.8 1217.4M694.8 1155.4L632.8 1217.4M658.8 984.0L720.8 1046.0M720.8 984.0L658.8 1046.0M658.8 1015.0L720.8 1077.0M720.8 1015.0L658.8 1077.0M658.8 1027.0L720.8 1089.0M720.8 1027.0L658.8 1089.0M658.8 1037.0L720.8 1099.0M720.8 1037.0L658.8 1099.0M658.8 1045.0L720.8 1107.0M720.8 1045.0L658.8 1107.0M658.8 1053.0L720.8 1115.0M720.8 1053.0L658.8 1115.0M658.8 1058.1L720.8 1120.1M720.8 1058.1L658.8 1120.1M658.8 1062.1L720.8 1124.1M720.8 1062.1L658.8 1124.1M658.8 1065.8L720.8 1127.8M720.8 1065.8L658.8 1127.8M658.8 1069.9L720.8 1131.9M720.8 1069.9L658.8 1131.9M658.8 1075.4L720.8 1137.4M720.8 1075.4L658.8 1137.4M658.8 1080.4L720.8 1142.4M720.8 1080.4L658.8 1142.4M658.8 1084.1L720.8 1146.1M720.8 1084.1L658.8 1146.1M658.8 1088.1L720.8 1150.1M720.8 1088.1L658.8 1150.1M658.8 1091.8L720.8 1153.8M720.8 1091.8L658.8 1153.8M658.8 1095.4L720.8 1157.4M720.8 1095.4L658.8 1157.4M658.8 1100.5L720.8 1162.5M720.8 1100.5L658.8 1162.5M658.8 1104.4L720.8 1166.4M720.8 1104.4L658.8 1166.4M658.8 1109.0L720.8 1171.0M720.8 1109.0L658.8 1171.0M658.8 1113.4L720.8 1175.4M720.8 1113.4L658.8 1175.4M658.8 1117.3L720.8 1179.3M720.8 1117.3L658.8 1179.3M658.8 1122.2L720.8 1184.2M720.8 1122.2L658.8 1184.2M658.8 1126.0L720.8 1188.0M720.8 1126.0L658.8 1188.0M658.8 1130.8L720.8 1192.8M720.8 1130.8L658.8 1192.8M658.8 1134.5L720.8 1196.5M720.8 1134.5L658.8 1196.5M658.8 1138.9L720.8 1200.9M720.8 1138.9L658.8 1200.9M658.8 1142.8L720.8 1204.8M720.8 1142.8L658.8 1204.8M658.8 1146.8L720.8 1208.8M720.8 1146.8L658.8 1208.8M658.8 1152.3L720.8 1214.3M720.8 1152.3L658.8 1214.3M658.8 1157.4L720.8 1219.4M720.8 1157.4L658.8 1219.4M658.8 1161.5L720.8 1223.5M720.8 1161.5L658.8 1223.5M658.8 1166.8L720.8 1228.8M720.8 1166.8L658.8 1228.8M735.8 1157.7L797.8 1219.7M797.8 1157.7L735.8 1219.7M813.4 1170.4L875.4 1232.4M875.4 1170.4L813.4 1232.4M529.0 1098.0L591.0 1160.0M591.0 1098.0L529.0 1160.0M529.0 1119.0L591.0 1181.0M591.0 1119.0L529.0 1181.0M529.0 1122.4L591.0 1184.4M591.0 1122.4L529.0 1184.4M529.0 1126.2L591.0 1188.2M591.0 1126.2L529.0 1188.2M529.0 1129.9L591.0 1191.9M591.0 1129.9L529.0 1191.9M529.0 1133.0L591.0 1195.0M591.0 1133.0L529.0 1195.0M529.0 1137.0L591.0 1199.0M591.0 1137.0L529.0 1199.0M529.0 1140.2L591.0 1202.2M591.0 1140.2L529.0 1202.2M529.0 1143.5L591.0 1205.5M591.0 1143.5L529.0 1205.5M529.0 1154.0L591.0 1216.0M591.0 1154.0L529.0 1216.0M529.0 1162.0L591.0 1224.0M591.0 1162.0L529.0 1224.0M529.0 1169.0L591.0 1231.0M591.0 1169.0L529.0 1231.0M529.0 1176.0L591.0 1238.0M591.0 1176.0L529.0 1238.0M529.0 1183.0L591.0 1245.0M591.0 1183.0L529.0 1245.0M529.0 1190.0L591.0 1252.0M591.0 1190.0L529.0 1252.0M529.0 1310.0L591.0 1372.0M591.0 1310.0L529.0 1372.0M529.0 1313.7L591.0 1375.7M591.0 1313.7L529.0 1375.7M529.0 1317.4L591.0 1379.4M591.0 1317.4L529.0 1379.4M529.0 1320.7L591.0 1382.7M591.0 1320.7L529.0 1382.7M529.0 1324.1L591.0 1386.1M591.0 1324.1L529.0 1386.1M529.0 1328.2L591.0 1390.2M591.0 1328.2L529.0 1390.2M529.0 1331.8L591.0 1393.8M591.0 1331.8L529.0 1393.8M529.0 1335.9L591.0 1397.9M591.0 1335.9L529.0 1397.9M529.0 1339.7L591.0 1401.7M591.0 1339.7L529.0 1401.7M529.0 1343.7L591.0 1405.7M591.0 1343.7L529.0 1405.7M529.0 1348.4L591.0 1410.4M591.0 1348.4L529.0 1410.4M529.0 1352.4L591.0 1414.4M591.0 1352.4L529.0 1414.4M529.0 1356.5L591.0 1418.5M591.0 1356.5L529.0 1418.5M529.0 1361.1L591.0 1423.1M591.0 1361.1L529.0 1423.1M529.0 1364.6L591.0 1426.6M591.0 1364.6L529.0 1426.6M529.0 1368.0L591.0 1430.0M591.0 1368.0L529.0 1430.0M529.0 1375.0L591.0 1437.0M591.0 1375.0L529.0 1437.0M529.0 1384.3L591.0 1446.3M591.0 1384.3L529.0 1446.3M529.0 1391.3L591.0 1453.3M591.0 1391.3L529.0 1453.3M529.0 1398.0L591.0 1460.0M591.0 1398.0L529.0 1460.0M529.0 1407.0L591.0 1469.0M591.0 1407.0L529.0 1469.0M529.0 1416.7L591.0 1478.7M591.0 1416.7L529.0 1478.7M529.0 1423.5L591.0 1485.5M591.0 1423.5L529.0 1485.5M529.0 1433.3L591.0 1495.3M591.0 1433.3L529.0 1495.3M529.0 1438.0L591.0 1500.0M591.0 1438.0L529.0 1500.0M529.0 1442.7L591.0 1504.7M591.0 1442.7L529.0 1504.7M529.0 1447.0L591.0 1509.0M591.0 1447.0L529.0 1509.0M529.0 1450.8L591.0 1512.8M591.0 1450.8L529.0 1512.8M529.0 1454.3L591.0 1516.3M591.0 1454.3L529.0 1516.3M529.0 1459.8L591.0 1521.8M591.0 1459.8L529.0 1521.8M529.0 1463.7L591.0 1525.7M591.0 1463.7L529.0 1525.7M529.0 1468.6L591.0 1530.6M591.0 1468.6L529.0 1530.6M529.0 1472.7L591.0 1534.7M591.0 1472.7L529.0 1534.7M529.0 1477.8L591.0 1539.8M591.0 1477.8L529.0 1539.8M529.0 1482.5L591.0 1544.5M591.0 1482.5L529.0 1544.5M529.0 1486.6L591.0 1548.6M591.0 1486.6L529.0 1548.6M529.0 1490.4L591.0 1552.4M591.0 1490.4L529.0 1552.4M538.5 1321.0L600.5 1383.0M600.5 1321.0L538.5 1383.0M538.5 1339.0L600.5 1401.0M600.5 1339.0L538.5 1401.0M538.5 1389.0L600.5 1451.0M600.5 1389.0L538.5 1451.0M538.5 1414.0L600.5 1476.0M600.5 1414.0L538.5 1476.0M538.5 1439.0L600.5 1501.0M600.5 1439.0L538.5 1501.0M538.5 1469.0L600.5 1531.0M600.5 1469.0L538.5 1531.0M538.5 1497.0L600.5 1559.0M600.5 1497.0L538.5 1559.0M840.2 1170.4L902.2 1232.4M902.2 1170.4L840.2 1232.4M840.2 1176.7L902.2 1238.7M902.2 1176.7L840.2 1238.7M840.2 1214.0L902.2 1276.0M902.2 1214.0L840.2 1276.0M840.2 1226.0L902.2 1288.0M902.2 1226.0L840.2 1288.0M840.2 1230.3L902.2 1292.3M902.2 1230.3L840.2 1292.3M840.2 1234.5L902.2 1296.5M902.2 1234.5L840.2 1296.5M840.2 1237.3L902.2 1299.3M902.2 1237.3L840.2 1299.3M840.2 1257.0L902.2 1319.0M902.2 1257.0L840.2 1319.0M840.2 1264.0L902.2 1326.0M902.2 1264.0L840.2 1326.0M840.2 1271.0L902.2 1333.0M902.2 1271.0L840.2 1333.0M840.2 1275.4L902.2 1337.4M902.2 1275.4L840.2 1337.4M840.2 1281.0L902.2 1343.0M902.2 1281.0L840.2 1343.0M840.2 1285.3L902.2 1347.3M902.2 1285.3L840.2 1347.3M840.2 1289.5L902.2 1351.5M902.2 1289.5L840.2 1351.5M840.2 1298.0L902.2 1360.0M902.2 1298.0L840.2 1360.0M840.2 1302.0L902.2 1364.0M902.2 1302.0L840.2 1364.0M840.2 1306.5L902.2 1368.5M902.2 1306.5L840.2 1368.5M840.2 1310.0L902.2 1372.0M902.2 1310.0L840.2 1372.0M840.2 1313.5L902.2 1375.5M902.2 1313.5L840.2 1375.5M580.5 1837.7L642.5 1899.7M642.5 1837.7L580.5 1899.7M994.6 1257.6L1056.6 1319.6M1056.6 1257.6L994.6 1319.6M994.6 1271.7L1056.6 1333.7M1056.6 1271.7L994.6 1333.7M994.6 1313.0L1056.6 1375.0M1056.6 1313.0L994.6 1375.0M994.6 1330.3L1056.6 1392.3M1056.6 1330.3L994.6 1392.3M994.6 1341.0L1056.6 1403.0M1056.6 1341.0L994.6 1403.0M994.6 1347.7L1056.6 1409.7M1056.6 1347.7L994.6 1409.7M994.6 1356.3L1056.6 1418.3M1056.6 1356.3L994.6 1418.3M994.6 1366.0L1056.6 1428.0M1056.6 1366.0L994.6 1428.0M994.6 1373.0L1056.6 1435.0M1056.6 1373.0L994.6 1435.0M994.6 1384.5L1056.6 1446.5M1056.6 1384.5L994.6 1446.5M994.6 1402.0L1056.6 1464.0M1056.6 1402.0L994.6 1464.0M994.6 1445.3L1056.6 1507.3M1056.6 1445.3L994.6 1507.3M994.6 1462.7L1056.6 1524.7M1056.6 1462.7L994.6 1524.7M994.6 1574.8L1056.6 1636.8M1056.6 1574.8L994.6 1636.8M984.8 1503.0L1046.8 1565.0M1046.8 1503.0L984.8 1565.0M1046.4 539.0L1108.4 601.0M1108.4 539.0L1046.4 601.0M1046.4 599.0L1108.4 661.0M1108.4 599.0L1046.4 661.0M1046.4 617.0L1108.4 679.0M1108.4 617.0L1046.4 679.0M1046.4 632.0L1108.4 694.0M1108.4 632.0L1046.4 694.0M1046.4 645.0L1108.4 707.0M1108.4 645.0L1046.4 707.0M1046.4 659.0L1108.4 721.0M1108.4 659.0L1046.4 721.0M1046.4 691.0L1108.4 753.0M1108.4 691.0L1046.4 753.0M1046.4 718.5L1108.4 780.5M1108.4 718.5L1046.4 780.5M1046.4 724.0L1108.4 786.0M1108.4 724.0L1046.4 786.0M1046.4 729.0L1108.4 791.0M1108.4 729.0L1046.4 791.0M1046.4 735.0L1108.4 797.0M1108.4 735.0L1046.4 797.0M1046.4 740.0L1108.4 802.0M1108.4 740.0L1046.4 802.0M1046.4 754.0L1108.4 816.0M1108.4 754.0L1046.4 816.0M1046.4 1098.0L1108.4 1160.0M1108.4 1098.0L1046.4 1160.0M1077.6 684.6L1139.6 746.6M1139.6 684.6L1077.6 746.6M1121.5 789.5L1183.5 851.5M1183.5 789.5L1121.5 851.5M1046.2 1282.0L1108.2 1344.0M1108.2 1282.0L1046.2 1344.0M1046.2 1299.0L1108.2 1361.0M1108.2 1299.0L1046.2 1361.0M1046.2 1314.0L1108.2 1376.0M1108.2 1314.0L1046.2 1376.0M1046.2 1327.0L1108.2 1389.0M1108.2 1327.0L1046.2 1389.0M1046.2 1330.6L1108.2 1392.6M1108.2 1330.6L1046.2 1392.6M1046.2 1334.5L1108.2 1396.5M1108.2 1334.5L1046.2 1396.5M1046.2 1339.1L1108.2 1401.1M1108.2 1339.1L1046.2 1401.1M1046.2 1344.4L1108.2 1406.4M1108.2 1344.4L1046.2 1406.4M1046.2 1349.1L1108.2 1411.1M1108.2 1349.1L1046.2 1411.1M1046.2 1353.1L1108.2 1415.1M1108.2 1353.1L1046.2 1415.1M1046.2 1358.5L1108.2 1420.5M1108.2 1358.5L1046.2 1420.5M1046.2 1362.4L1108.2 1424.4M1108.2 1362.4L1046.2 1424.4M1046.2 1365.8L1108.2 1427.8M1108.2 1365.8L1046.2 1427.8M1046.2 1369.8L1108.2 1431.8M1108.2 1369.8L1046.2 1431.8M1046.2 1374.2L1108.2 1436.2M1108.2 1374.2L1046.2 1436.2M1046.2 1377.7L1108.2 1439.7M1108.2 1377.7L1046.2 1439.7M1046.2 1381.5L1108.2 1443.5M1108.2 1381.5L1046.2 1443.5M1046.2 1385.7L1108.2 1447.7M1108.2 1385.7L1046.2 1447.7M1046.2 1390.4L1108.2 1452.4M1108.2 1390.4L1046.2 1452.4M1046.2 1394.1L1108.2 1456.1M1108.2 1394.1L1046.2 1456.1M1046.2 1398.3L1108.2 1460.3M1108.2 1398.3L1046.2 1460.3M1046.2 1409.0L1108.2 1471.0M1108.2 1409.0L1046.2 1471.0M1046.2 1421.0L1108.2 1483.0M1108.2 1421.0L1046.2 1483.0M1046.2 1429.0L1108.2 1491.0M1108.2 1429.0L1046.2 1491.0M1046.2 1434.6L1108.2 1496.6M1108.2 1434.6L1046.2 1496.6M1046.2 1439.4L1108.2 1501.4M1108.2 1439.4L1046.2 1501.4M1046.2 1444.3L1108.2 1506.3M1108.2 1444.3L1046.2 1506.3M1046.2 1449.0L1108.2 1511.0M1108.2 1449.0L1046.2 1511.0M1046.2 1452.7L1108.2 1514.7M1108.2 1452.7L1046.2 1514.7M1046.2 1456.2L1108.2 1518.2M1108.2 1456.2L1046.2 1518.2M1046.2 1459.6L1108.2 1521.6M1108.2 1459.6L1046.2 1521.6M1046.2 1465.0L1108.2 1527.0M1108.2 1465.0L1046.2 1527.0M1046.2 1470.0L1108.2 1532.0M1108.2 1470.0L1046.2 1532.0M1046.2 1475.5L1108.2 1537.5M1108.2 1475.5L1046.2 1537.5M1046.2 1478.9L1108.2 1540.9M1108.2 1478.9L1046.2 1540.9M1046.2 1483.7L1108.2 1545.7M1108.2 1483.7L1046.2 1545.7M1046.2 1488.2L1108.2 1550.2M1108.2 1488.2L1046.2 1550.2M1046.2 1493.2L1108.2 1555.2M1108.2 1493.2L1046.2 1555.2M1046.2 1497.3L1108.2 1559.3M1108.2 1497.3L1046.2 1559.3M1046.2 1514.0L1108.2 1576.0M1108.2 1514.0L1046.2 1576.0M1046.2 1529.0L1108.2 1591.0M1108.2 1529.0L1046.2 1591.0M1046.2 1559.0L1108.2 1621.0M1108.2 1559.0L1046.2 1621.0M1123.0 1332.0L1185.0 1394.0M1185.0 1332.0L1123.0 1394.0M1123.0 1344.0L1185.0 1406.0M1185.0 1344.0L1123.0 1406.0M1123.0 1354.0L1185.0 1416.0M1185.0 1354.0L1123.0 1416.0M1123.0 1362.0L1185.0 1424.0M1185.0 1362.0L1123.0 1424.0M1123.0 1365.1L1185.0 1427.1M1185.0 1365.1L1123.0 1427.1M1123.0 1368.6L1185.0 1430.6M1185.0 1368.6L1123.0 1430.6M1123.0 1372.4L1185.0 1434.4M1185.0 1372.4L1123.0 1434.4M1123.0 1376.3L1185.0 1438.3M1185.0 1376.3L1123.0 1438.3M1123.0 1380.0L1185.0 1442.0M1185.0 1380.0L1123.0 1442.0M1123.0 1383.7L1185.0 1445.7M1185.0 1383.7L1123.0 1445.7M1123.0 1387.5L1185.0 1449.5M1185.0 1387.5L1123.0 1449.5M1123.0 1403.0L1185.0 1465.0M1185.0 1403.0L1123.0 1465.0M1123.0 1417.8L1185.0 1479.8M1185.0 1417.8L1123.0 1479.8M1123.0 1434.2L1185.0 1496.2M1185.0 1434.2L1123.0 1496.2M1123.0 1451.7L1185.0 1513.7M1185.0 1451.7L1123.0 1513.7M1123.0 1469.0L1185.0 1531.0M1185.0 1469.0L1123.0 1531.0M1123.0 1484.1L1185.0 1546.1M1185.0 1484.1L1123.0 1546.1M1123.0 1507.0L1185.0 1569.0M1185.0 1507.0L1123.0 1569.0M1123.0 1513.7L1185.0 1575.7M1185.0 1513.7L1123.0 1575.7M1123.0 1519.6L1185.0 1581.6M1185.0 1519.6L1123.0 1581.6M1123.0 1525.7L1185.0 1587.7M1185.0 1525.7L1123.0 1587.7M1123.0 1531.1L1185.0 1593.1M1185.0 1531.1L1123.0 1593.1M1123.0 1537.1L1185.0 1599.1M1185.0 1537.1L1123.0 1599.1M1123.0 1543.1L1185.0 1605.1M1185.0 1543.1L1123.0 1605.1M1123.0 1547.8L1185.0 1609.8M1185.0 1547.8L1123.0 1609.8M1123.0 1553.9L1185.0 1615.9M1185.0 1553.9L1123.0 1615.9M1123.0 1560.9L1185.0 1622.9M1185.0 1560.9L1123.0 1622.9M1123.0 1586.0L1185.0 1648.0M1185.0 1586.0L1123.0 1648.0" stroke="#f4e800" stroke-width="3.8" fill="none"/>
<rect x="605.9" y="1195.0" width="61.5" height="50.2" fill="#f4e800" stroke="#231815" stroke-width="3.4"/>
<rect x="605.9" y="1212.0" width="61.5" height="50.2" fill="#f4e800" stroke="#231815" stroke-width="3.4"/>
<rect x="605.9" y="1142.4" width="61.5" height="50.2" fill="#f4e800" stroke="#231815" stroke-width="3.4"/>
<rect x="605.9" y="1167.4" width="61.5" height="50.2" fill="#f4e800" stroke="#231815" stroke-width="3.4"/>
<rect x="605.9" y="1180.7" width="61.5" height="50.2" fill="#f4e800" stroke="#231815" stroke-width="3.4"/>
<rect x="605.9" y="1235.8" width="61.5" height="50.2" fill="#f4e800" stroke="#231815" stroke-width="3.4"/>
<rect x="605.9" y="1252.0" width="61.5" height="50.2" fill="#f4e800" stroke="#231815" stroke-width="3.4"/>
<rect x="605.9" y="1246.4" width="61.5" height="50.2" fill="#f4e800" stroke="#231815" stroke-width="3.4"/>
<rect x="605.9" y="1307.4" width="61.5" height="50.2" fill="#f4e800" stroke="#231815" stroke-width="3.4"/>
<polygon points="689.1,1142.8 717.8,1191.0 660.4,1191.0" fill="#751f7c" stroke="#231815" stroke-width="3.4" stroke-linejoin="miter"/>
<polygon points="689.1,1168.3 717.8,1216.5 660.4,1216.5" fill="#751f7c" stroke="#231815" stroke-width="3.4" stroke-linejoin="miter"/>
<polygon points="689.1,1177.2 717.8,1225.4 660.4,1225.4" fill="#751f7c" stroke="#231815" stroke-width="3.4" stroke-linejoin="miter"/>
<polygon points="689.1,1195.2 717.8,1243.4 660.4,1243.4" fill="#751f7c" stroke="#231815" stroke-width="3.4" stroke-linejoin="miter"/>
<polygon points="689.1,1219.1 717.8,1267.3 660.4,1267.3" fill="#751f7c" stroke="#231815" stroke-width="3.4" stroke-linejoin="miter"/>
<polygon points="689.1,1248.9 717.8,1297.1 660.4,1297.1" fill="#751f7c" stroke="#231815" stroke-width="3.4" stroke-linejoin="miter"/>
<polygon points="689.1,1254.3 717.8,1302.5 660.4,1302.5" fill="#751f7c" stroke="#231815" stroke-width="3.4" stroke-linejoin="miter"/>
<polygon points="689.1,1308.4 717.8,1356.6 660.4,1356.6" fill="#751f7c" stroke="#231815" stroke-width="3.4" stroke-linejoin="miter"/>
<ellipse cx="636.7" cy="1384.0" rx="31.1" ry="23.6" fill="#e60012" stroke="#231815" stroke-width="2.7"/>
<ellipse cx="636.7" cy="1388.5" rx="31.1" ry="23.6" fill="#e60012" stroke="#231815" stroke-width="2.7"/>
<ellipse cx="636.7" cy="1393.0" rx="31.1" ry="23.6" fill="#e60012" stroke="#231815" stroke-width="2.7"/>
<ellipse cx="636.7" cy="1397.5" rx="31.1" ry="23.6" fill="#e60012" stroke="#231815" stroke-width="2.7"/>
<ellipse cx="636.7" cy="1402.0" rx="31.1" ry="23.6" fill="#e60012" stroke="#231815" stroke-width="2.7"/>
<ellipse cx="636.7" cy="1406.5" rx="31.1" ry="23.6" fill="#e60012" stroke="#231815" stroke-width="2.7"/>
<ellipse cx="636.7" cy="1411.0" rx="31.1" ry="23.6" fill="#e60012" stroke="#231815" stroke-width="2.7"/>
<ellipse cx="636.7" cy="1415.5" rx="31.1" ry="23.6" fill="#e60012" stroke="#231815" stroke-width="2.7"/>
<ellipse cx="636.7" cy="1420.0" rx="31.1" ry="23.6" fill="#e60012" stroke="#231815" stroke-width="2.7"/>
<ellipse cx="636.7" cy="1424.5" rx="31.1" ry="23.6" fill="#e60012" stroke="#231815" stroke-width="2.7"/>
<ellipse cx="636.7" cy="1429.0" rx="31.1" ry="23.6" fill="#e60012" stroke="#231815" stroke-width="2.7"/>
<ellipse cx="636.7" cy="1433.5" rx="31.1" ry="23.6" fill="#e60012" stroke="#231815" stroke-width="2.7"/>
<ellipse cx="636.7" cy="1438.0" rx="31.1" ry="23.6" fill="#e60012" stroke="#231815" stroke-width="2.7"/>
<ellipse cx="636.7" cy="1442.5" rx="31.1" ry="23.6" fill="#e60012" stroke="#231815" stroke-width="2.7"/>
<ellipse cx="636.7" cy="1447.0" rx="31.1" ry="23.6" fill="#e60012" stroke="#231815" stroke-width="2.7"/>
<ellipse cx="636.7" cy="1451.5" rx="31.1" ry="23.6" fill="#e60012" stroke="#231815" stroke-width="2.7"/>
<ellipse cx="636.7" cy="1456.0" rx="31.1" ry="23.6" fill="#e60012" stroke="#231815" stroke-width="2.7"/>
<ellipse cx="636.7" cy="1460.5" rx="31.1" ry="23.6" fill="#e60012" stroke="#231815" stroke-width="2.7"/>
<ellipse cx="636.7" cy="1465.0" rx="31.1" ry="23.6" fill="#e60012" stroke="#231815" stroke-width="2.7"/>
<ellipse cx="636.7" cy="1469.5" rx="31.1" ry="23.6" fill="#e60012" stroke="#231815" stroke-width="2.7"/>
<ellipse cx="636.7" cy="1474.0" rx="31.1" ry="23.6" fill="#e60012" stroke="#231815" stroke-width="2.7"/>
<ellipse cx="636.7" cy="1478.5" rx="31.1" ry="23.6" fill="#e60012" stroke="#231815" stroke-width="2.7"/>
<ellipse cx="636.7" cy="1483.0" rx="31.1" ry="23.6" fill="#e60012" stroke="#231815" stroke-width="2.7"/>
<ellipse cx="636.7" cy="1487.5" rx="31.1" ry="23.6" fill="#e60012" stroke="#231815" stroke-width="2.7"/>
<ellipse cx="636.7" cy="1492.0" rx="31.1" ry="23.6" fill="#e60012" stroke="#231815" stroke-width="2.7"/>
<ellipse cx="636.7" cy="1496.5" rx="31.1" ry="23.6" fill="#e60012" stroke="#231815" stroke-width="2.7"/>
<ellipse cx="636.7" cy="1501.0" rx="31.1" ry="23.6" fill="#e60012" stroke="#231815" stroke-width="2.7"/>
<ellipse cx="636.7" cy="1505.5" rx="31.1" ry="23.6" fill="#e60012" stroke="#231815" stroke-width="2.7"/>
<ellipse cx="636.7" cy="1510.0" rx="31.1" ry="23.6" fill="#e60012" stroke="#231815" stroke-width="2.7"/>
<ellipse cx="636.7" cy="1514.5" rx="31.1" ry="23.6" fill="#e60012" stroke="#231815" stroke-width="2.7"/>
<ellipse cx="636.7" cy="1519.0" rx="31.1" ry="23.6" fill="#e60012" stroke="#231815" stroke-width="2.7"/>
<ellipse cx="636.7" cy="1523.5" rx="31.1" ry="23.6" fill="#e60012" stroke="#231815" stroke-width="2.7"/>
<ellipse cx="636.7" cy="1528.0" rx="31.1" ry="23.6" fill="#e60012" stroke="#231815" stroke-width="2.7"/>
<ellipse cx="636.7" cy="1532.5" rx="31.1" ry="23.6" fill="#e60012" stroke="#231815" stroke-width="2.7"/>
<ellipse cx="636.7" cy="1537.0" rx="31.1" ry="23.6" fill="#e60012" stroke="#231815" stroke-width="2.7"/>
<ellipse cx="636.7" cy="1541.5" rx="31.1" ry="23.6" fill="#e60012" stroke="#231815" stroke-width="2.7"/>
<ellipse cx="636.7" cy="1546.0" rx="31.1" ry="23.6" fill="#e60012" stroke="#231815" stroke-width="2.7"/>
<ellipse cx="636.7" cy="1550.5" rx="31.1" ry="23.6" fill="#e60012" stroke="#231815" stroke-width="2.7"/>
<ellipse cx="636.7" cy="1555.0" rx="31.1" ry="23.6" fill="#e60012" stroke="#231815" stroke-width="2.7"/>
<ellipse cx="636.7" cy="1559.5" rx="31.1" ry="23.6" fill="#e60012" stroke="#231815" stroke-width="2.7"/>
<ellipse cx="636.7" cy="1564.0" rx="31.1" ry="23.6" fill="#e60012" stroke="#231815" stroke-width="2.7"/>
<ellipse cx="636.7" cy="1568.5" rx="31.1" ry="23.6" fill="#e60012" stroke="#231815" stroke-width="2.7"/>
<ellipse cx="636.7" cy="1573.0" rx="31.1" ry="23.6" fill="#e60012" stroke="#231815" stroke-width="2.7"/>
<ellipse cx="636.7" cy="1577.5" rx="31.1" ry="23.6" fill="#e60012" stroke="#231815" stroke-width="2.7"/>
<ellipse cx="636.7" cy="1582.0" rx="31.1" ry="23.6" fill="#e60012" stroke="#231815" stroke-width="2.7"/>
<ellipse cx="636.7" cy="1586.5" rx="31.1" ry="23.6" fill="#e60012" stroke="#231815" stroke-width="2.7"/>
<ellipse cx="636.7" cy="1591.0" rx="31.1" ry="23.6" fill="#e60012" stroke="#231815" stroke-width="2.7"/>
<ellipse cx="636.7" cy="1595.5" rx="31.1" ry="23.6" fill="#e60012" stroke="#231815" stroke-width="2.7"/>
<ellipse cx="636.7" cy="1600.0" rx="31.1" ry="23.6" fill="#e60012" stroke="#231815" stroke-width="2.7"/>
<ellipse cx="636.7" cy="1604.5" rx="31.1" ry="23.6" fill="#e60012" stroke="#231815" stroke-width="2.7"/>
<ellipse cx="636.7" cy="1609.0" rx="31.1" ry="23.6" fill="#e60012" stroke="#231815" stroke-width="2.7"/>
<ellipse cx="636.7" cy="1613.5" rx="31.1" ry="23.6" fill="#e60012" stroke="#231815" stroke-width="2.7"/>
<ellipse cx="636.7" cy="1618.0" rx="31.1" ry="23.6" fill="#e60012" stroke="#231815" stroke-width="2.7"/>
<ellipse cx="636.7" cy="1622.5" rx="31.1" ry="23.6" fill="#e60012" stroke="#231815" stroke-width="2.7"/>
<ellipse cx="636.7" cy="1627.0" rx="31.1" ry="23.6" fill="#e60012" stroke="#231815" stroke-width="2.7"/>
<ellipse cx="636.7" cy="1631.5" rx="31.1" ry="23.6" fill="#e60012" stroke="#231815" stroke-width="2.7"/>
<ellipse cx="636.7" cy="1636.0" rx="31.1" ry="23.6" fill="#e60012" stroke="#231815" stroke-width="2.7"/>
<ellipse cx="636.7" cy="1640.5" rx="31.1" ry="23.6" fill="#e60012" stroke="#231815" stroke-width="2.7"/>
<ellipse cx="636.7" cy="1645.0" rx="31.1" ry="23.6" fill="#e60012" stroke="#231815" stroke-width="2.7"/>
<ellipse cx="636.7" cy="1649.5" rx="31.1" ry="23.6" fill="#e60012" stroke="#231815" stroke-width="2.7"/>
<ellipse cx="636.7" cy="1654.0" rx="31.1" ry="23.6" fill="#e60012" stroke="#231815" stroke-width="2.7"/>
<ellipse cx="636.7" cy="1658.5" rx="31.1" ry="23.6" fill="#e60012" stroke="#231815" stroke-width="2.7"/>
<ellipse cx="636.7" cy="1663.0" rx="31.1" ry="23.6" fill="#e60012" stroke="#231815" stroke-width="2.7"/>
<ellipse cx="636.7" cy="1667.5" rx="31.1" ry="23.6" fill="#e60012" stroke="#231815" stroke-width="2.7"/>
<ellipse cx="636.7" cy="1672.0" rx="31.1" ry="23.6" fill="#e60012" stroke="#231815" stroke-width="2.7"/>
<ellipse cx="636.7" cy="1676.5" rx="31.1" ry="23.6" fill="#e60012" stroke="#231815" stroke-width="2.7"/>
<ellipse cx="636.7" cy="1681.0" rx="31.1" ry="23.6" fill="#e60012" stroke="#231815" stroke-width="2.7"/>
<ellipse cx="636.7" cy="1685.5" rx="31.1" ry="23.6" fill="#e60012" stroke="#231815" stroke-width="2.7"/>
<ellipse cx="636.7" cy="1690.0" rx="31.1" ry="23.6" fill="#e60012" stroke="#231815" stroke-width="2.7"/>
<ellipse cx="636.7" cy="1694.5" rx="31.1" ry="23.6" fill="#e60012" stroke="#231815" stroke-width="2.7"/>
<ellipse cx="636.7" cy="1699.0" rx="31.1" ry="23.6" fill="#e60012" stroke="#231815" stroke-width="2.7"/>
<ellipse cx="636.7" cy="1703.5" rx="31.1" ry="23.6" fill="#e60012" stroke="#231815" stroke-width="2.7"/>
<ellipse cx="636.7" cy="1708.0" rx="31.1" ry="23.6" fill="#e60012" stroke="#231815" stroke-width="2.7"/>
<ellipse cx="636.7" cy="1712.5" rx="31.1" ry="23.6" fill="#e60012" stroke="#231815" stroke-width="2.7"/>
<ellipse cx="636.7" cy="1397.6" rx="31.1" ry="23.6" fill="#e60012" stroke="#231815" stroke-width="2.7"/>
<ellipse cx="636.7" cy="1411.0" rx="31.1" ry="23.6" fill="#e60012" stroke="#231815" stroke-width="2.7"/>
<ellipse cx="636.7" cy="1434.0" rx="31.1" ry="23.6" fill="#e60012" stroke="#231815" stroke-width="2.7"/>
<ellipse cx="636.7" cy="1462.7" rx="31.1" ry="23.6" fill="#e60012" stroke="#231815" stroke-width="2.7"/>
<ellipse cx="636.7" cy="1496.6" rx="31.1" ry="23.6" fill="#e60012" stroke="#231815" stroke-width="2.7"/>
<ellipse cx="636.7" cy="1530.5" rx="31.1" ry="23.6" fill="#e60012" stroke="#231815" stroke-width="2.7"/>
<ellipse cx="636.7" cy="1544.0" rx="31.1" ry="23.6" fill="#e60012" stroke="#231815" stroke-width="2.7"/>
<ellipse cx="636.7" cy="1591.5" rx="31.1" ry="23.6" fill="#e60012" stroke="#231815" stroke-width="2.7"/>
<ellipse cx="636.7" cy="1612.0" rx="31.1" ry="23.6" fill="#e60012" stroke="#231815" stroke-width="2.7"/>
<ellipse cx="636.7" cy="1660.7" rx="31.1" ry="23.6" fill="#e60012" stroke="#231815" stroke-width="2.7"/>
<ellipse cx="636.7" cy="1717.6" rx="31.1" ry="23.6" fill="#e60012" stroke="#231815" stroke-width="2.7"/>
<ellipse cx="636.7" cy="1382.7" rx="31.1" ry="23.6" fill="#e60012" stroke="#231815" stroke-width="2.7"/>
<ellipse cx="636.7" cy="1473.6" rx="31.1" ry="23.6" fill="#e60012" stroke="#231815" stroke-width="2.7"/>
<ellipse cx="636.7" cy="1564.4" rx="31.1" ry="23.6" fill="#e60012" stroke="#231815" stroke-width="2.7"/>
<ellipse cx="636.7" cy="1632.0" rx="31.1" ry="23.6" fill="#e60012" stroke="#231815" stroke-width="2.7"/>
<ellipse cx="636.7" cy="1679.7" rx="31.1" ry="23.6" fill="#e60012" stroke="#231815" stroke-width="2.7"/>
<rect x="298" y="357.2" width="2136" height="2.2" fill="#b9b9b9"/>
<path d="M303.35 373V30.7H2429.1V373" fill="none" stroke="#231815" stroke-width="11.4"/>
<path d="M301.4 359.2V2021.7H2429.1V359.2" fill="none" stroke="#231815" stroke-width="10.9"/>
<rect x="296" y="359.2" width="2138.7" height="10.6" fill="#231815"/>
<rect x="558.1" y="1999.3" width="3.8" height="18" fill="#231815"/>
<rect x="816.9" y="1999.3" width="3.8" height="18" fill="#231815"/>
<rect x="1335.1" y="1999.3" width="3.8" height="18" fill="#231815"/>
<rect x="1851.8" y="1999.3" width="3.8" height="18" fill="#231815"/>
<rect x="2110.8" y="1999.3" width="3.8" height="18" fill="#231815"/>
<rect x="2369.3" y="1999.3" width="3.8" height="18" fill="#231815"/>
<rect x="306.5" y="528.2" width="13" height="4" fill="#231815"/>
<rect x="306.5" y="686.1" width="19" height="4" fill="#231815"/>
<rect x="306.5" y="858.7" width="13" height="4" fill="#231815"/>
<rect x="306.5" y="1024.9" width="13" height="4" fill="#231815"/>
<rect x="306.5" y="1190.0" width="19" height="4" fill="#231815"/>
<rect x="306.5" y="1356.6" width="13" height="4" fill="#231815"/>
<rect x="306.5" y="1521.9" width="13" height="4" fill="#231815"/>
<rect x="306.5" y="1688.0" width="13" height="4" fill="#231815"/>
<rect x="306.5" y="1853.7" width="13" height="4" fill="#231815"/>
<rect x="282" y="1997.7" width="15" height="4" fill="#808080"/>
<text x="310.0" y="196.5" font-size="78" text-anchor="start" textLength="278.0" lengthAdjust="spacing">In paper</text>
<text x="699.0" y="116.3" font-size="72.5" text-anchor="start" textLength="398.5" lengthAdjust="spacing">Granodiorite</text>
<text x="708.5" y="218.0" font-size="72.5" text-anchor="start" textLength="220.5" lengthAdjust="spacing">MMES</text>
<text x="702.5" y="300.0" font-size="72.5" text-anchor="start" textLength="338.5" lengthAdjust="spacing">Pyroxenite</text>
<path d="M610 81C597 95 594 115 594.5 135C595 152 598 165 595.5 170C594 174 591 176 588 177C591 178.5 594 180 595.5 184C598 189 595 203 595.5 222C596 242 602 260 611 277" fill="none" stroke="#231815" stroke-width="3"/>
<ellipse cx="646.6" cy="91.3" rx="24.3" ry="26" fill="#e60012" stroke="#231815" stroke-width="3.2"/>
<rect x="624.6" y="166" width="42" height="42.4" fill="#fff100" stroke="#231815" stroke-width="3.2"/>
<polygon points="651.05,241 677.45,286.7 624.65,286.7" fill="#a5408e" stroke="#231815" stroke-width="3.2"/>
<path d="M1181.9 64.4L1244.1 125.6M1244.8 68.6L1184.2 129.9" stroke="#ad50a2" stroke-width="3.8" fill="none"/>
<path d="M1185.8 189.4H1246.4M1215 158.7V219.9" stroke="#1f9a5f" stroke-width="4.4" fill="none"/>
<path d="M1189.1 266.4L1251.3 327.9M1251.3 266.4L1189.1 327.9" stroke="#fff100" stroke-width="3.8" fill="none"/>
<text y="116.8" font-size="72.5"><tspan x="1287.1" textLength="278.4" lengthAdjust="spacing">Southern</tspan> <tspan x="1584.5" textLength="324.0" lengthAdjust="spacing">subterrane</tspan> <tspan x="1942.5" textLength="301.0" lengthAdjust="spacing">magmatic</tspan> <tspan x="2258.5" textLength="139.0" lengthAdjust="spacing">rock</tspan></text>
<text y="220.0" font-size="72.5"><tspan x="1280.3" textLength="228.6" lengthAdjust="spacing">Central</tspan> <tspan x="1527.5" textLength="324.0" lengthAdjust="spacing">subterrane</tspan> <tspan x="1883.5" textLength="303.0" lengthAdjust="spacing">magmatic</tspan> <tspan x="2200.5" textLength="140.0" lengthAdjust="spacing">rock</tspan></text>
<text y="330.0" font-size="72.5"><tspan x="1286.5" textLength="253.0" lengthAdjust="spacing">Nothern</tspan> <tspan x="1558.1" textLength="324.4" lengthAdjust="spacing">subterrane</tspan> <tspan x="1914.5" textLength="303.0" lengthAdjust="spacing">magmatic</tspan> <tspan x="2231.1" textLength="139.1" lengthAdjust="spacing">rock</tspan></text>
<text y="444.7" font-size="72.5"><tspan x="316.3" textLength="138.5" lengthAdjust="spacing">Slab</tspan> <tspan x="487.5" textLength="246.0" lengthAdjust="spacing">rotation</tspan> <tspan x="765.5" textLength="110.6" lengthAdjust="spacing">and</tspan></text>
<text y="522.8" font-size="72.5"><tspan x="318.5" textLength="172.0" lengthAdjust="spacing">break</tspan> <tspan x="522.5" textLength="88.0" lengthAdjust="spacing">off</tspan></text>
<text y="457.8" font-size="72.5"><tspan x="1089.1" textLength="121.4" lengthAdjust="spacing">Flat</tspan> <tspan x="1228.1" textLength="338.7" lengthAdjust="spacing">subduction</tspan></text>
<text y="462.0" font-size="72.5"><tspan x="1788.5" textLength="235.0" lengthAdjust="spacing">Normal</tspan> <tspan x="2038.5" textLength="340.0" lengthAdjust="spacing">subduction</tspan></text>
<text x="254.2" y="2119.5" font-size="80" text-anchor="start" textLength="125.5" lengthAdjust="spacing">100</text>
<text x="511.9" y="2119.5" font-size="80" text-anchor="start" textLength="125.5" lengthAdjust="spacing">110</text>
<text x="771.5" y="2119.5" font-size="80" text-anchor="start" textLength="125.5" lengthAdjust="spacing">120</text>
<text x="1030.5" y="2119.5" font-size="80" text-anchor="start" textLength="125.5" lengthAdjust="spacing">130</text>
<text x="1288.4" y="2119.5" font-size="80" text-anchor="start" textLength="125.5" lengthAdjust="spacing">140</text>
<text x="1547.9" y="2119.5" font-size="80" text-anchor="start" textLength="125.5" lengthAdjust="spacing">150</text>
<text x="1806.9" y="2119.5" font-size="80" text-anchor="start" textLength="125.5" lengthAdjust="spacing">160</text>
<text x="2065.8" y="2119.5" font-size="80" text-anchor="start" textLength="125.5" lengthAdjust="spacing">170</text>
<text x="2324.5" y="2119.5" font-size="80" text-anchor="start" textLength="125.5" lengthAdjust="spacing">180</text>
<text x="186.0" y="536.0" font-size="80" text-anchor="start" textLength="88.0" lengthAdjust="spacing">20</text>
<text x="193.0" y="703.0" font-size="80" text-anchor="start" textLength="77.0" lengthAdjust="spacing">15</text>
<text x="193.0" y="872.0" font-size="80" text-anchor="start" textLength="81.0" lengthAdjust="spacing">10</text>
<text x="239.7" y="1039.5" font-size="80" text-anchor="middle">5</text>
<text x="240.0" y="1207.5" font-size="80" text-anchor="middle">0</text>
<text x="170.7" y="1376.0" font-size="80" text-anchor="start" textLength="86.1" lengthAdjust="spacing">−5</text>
<text x="130.3" y="1546.0" font-size="80" text-anchor="start" textLength="133.0" lengthAdjust="spacing">−10</text>
<text x="130.0" y="1714.5" font-size="80" text-anchor="start" textLength="132.0" lengthAdjust="spacing">−15</text>
<text x="127.3" y="1874.0" font-size="80" text-anchor="start" textLength="134.7" lengthAdjust="spacing">−20</text>
<text x="1150.0" y="2216.5" font-size="111" text-anchor="start" textLength="430.0" lengthAdjust="spacing">Age(Ma)</text>
<text transform="translate(106.5,1312) rotate(-90)" font-size="108" textLength="286" lengthAdjust="spacing">εHf(t)</text>
</svg>
</body></html>
